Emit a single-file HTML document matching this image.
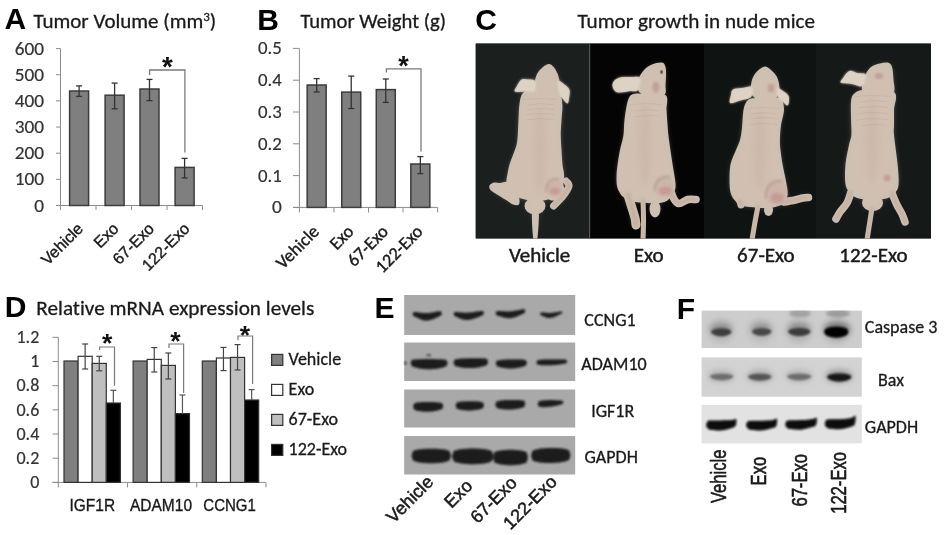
<!DOCTYPE html>
<html><head><meta charset="utf-8"><style>
html,body{margin:0;padding:0;background:#fff;}
svg{display:block;} text{font-variant-ligatures:none;font-feature-settings:'liga' 0,'kern' 1;}
</style></head><body>
<svg width="944" height="535" viewBox="0 0 944 535">
<defs>
<filter id="b06" filterUnits="userSpaceOnUse" x="0" y="0" width="944" height="535"><feGaussianBlur stdDeviation="0.6"/></filter>
<filter id="b07" filterUnits="userSpaceOnUse" x="0" y="0" width="944" height="535"><feGaussianBlur stdDeviation="0.7"/></filter>
<filter id="b08" filterUnits="userSpaceOnUse" x="0" y="0" width="944" height="535"><feGaussianBlur stdDeviation="0.9"/></filter>
<filter id="b12" filterUnits="userSpaceOnUse" x="0" y="0" width="944" height="535"><feGaussianBlur stdDeviation="1.3"/></filter>
<filter id="b3" filterUnits="userSpaceOnUse" x="0" y="0" width="944" height="535"><feGaussianBlur stdDeviation="3"/></filter>
<filter id="b1" filterUnits="userSpaceOnUse" x="0" y="0" width="944" height="535"><feGaussianBlur stdDeviation="1"/></filter>
<filter id="b15" filterUnits="userSpaceOnUse" x="0" y="0" width="944" height="535"><feGaussianBlur stdDeviation="1.5"/></filter>
<filter id="b2" filterUnits="userSpaceOnUse" x="0" y="0" width="944" height="535"><feGaussianBlur stdDeviation="2"/></filter>
<filter id="b5" filterUnits="userSpaceOnUse" x="0" y="0" width="944" height="535"><feGaussianBlur stdDeviation="5"/></filter>
<filter id="inner" filterUnits="userSpaceOnUse" x="0" y="0" width="944" height="535"><feMorphology operator="erode" radius="3"/><feGaussianBlur stdDeviation="3"/></filter>
<clipPath id="fclip"><rect x="701.6" y="310.6" width="160.2" height="37.4"/><rect x="701.6" y="357.4" width="160.2" height="39.3"/></clipPath>
<clipPath id="photoclip"><rect x="475.6" y="43.6" width="455.4" height="194.8"/></clipPath>
</defs>
<rect width="944" height="535" fill="#fff"/>
<text x="4.6" y="29" font-family="'Liberation Sans', Arial, sans-serif" font-size="30" fill="#000" text-anchor="start" font-weight="bold"  textLength="21.67" lengthAdjust="spacingAndGlyphs">A</text>
<text x="33.5" y="28" font-family="Carlito, 'Liberation Sans', sans-serif" font-size="21" fill="#1a1a1a" stroke="#1a1a1a" stroke-width="0.3">Tumor Volume (mm<tspan font-size="13" dy="-7">3</tspan><tspan dy="7">)</tspan></text>
<line x1="56" y1="48.6" x2="60.5" y2="48.6" stroke="#8c8c8c" stroke-width="1" />
<text x="44.0" y="54.6" font-family="Carlito, 'Liberation Sans', sans-serif" font-size="18" fill="#333" text-anchor="end" font-weight="normal" textLength="29.31" lengthAdjust="spacingAndGlyphs" stroke="#333" stroke-width="0.2" >600</text>
<line x1="56" y1="74.75" x2="60.5" y2="74.75" stroke="#8c8c8c" stroke-width="1" />
<text x="44.0" y="80.75" font-family="Carlito, 'Liberation Sans', sans-serif" font-size="18" fill="#333" text-anchor="end" font-weight="normal" textLength="29.31" lengthAdjust="spacingAndGlyphs" stroke="#333" stroke-width="0.2" >500</text>
<line x1="56" y1="100.9" x2="60.5" y2="100.9" stroke="#8c8c8c" stroke-width="1" />
<text x="44.0" y="106.9" font-family="Carlito, 'Liberation Sans', sans-serif" font-size="18" fill="#333" text-anchor="end" font-weight="normal" textLength="29.31" lengthAdjust="spacingAndGlyphs" stroke="#333" stroke-width="0.2" >400</text>
<line x1="56" y1="127.05000000000001" x2="60.5" y2="127.05000000000001" stroke="#8c8c8c" stroke-width="1" />
<text x="44.0" y="133.05" font-family="Carlito, 'Liberation Sans', sans-serif" font-size="18" fill="#333" text-anchor="end" font-weight="normal" textLength="29.31" lengthAdjust="spacingAndGlyphs" stroke="#333" stroke-width="0.2" >300</text>
<line x1="56" y1="153.20000000000002" x2="60.5" y2="153.20000000000002" stroke="#8c8c8c" stroke-width="1" />
<text x="44.0" y="159.20000000000002" font-family="Carlito, 'Liberation Sans', sans-serif" font-size="18" fill="#333" text-anchor="end" font-weight="normal" textLength="29.31" lengthAdjust="spacingAndGlyphs" stroke="#333" stroke-width="0.2" >200</text>
<line x1="56" y1="179.35" x2="60.5" y2="179.35" stroke="#8c8c8c" stroke-width="1" />
<text x="44.0" y="185.35" font-family="Carlito, 'Liberation Sans', sans-serif" font-size="18" fill="#333" text-anchor="end" font-weight="normal" textLength="29.31" lengthAdjust="spacingAndGlyphs" stroke="#333" stroke-width="0.2" >100</text>
<line x1="56" y1="205.5" x2="60.5" y2="205.5" stroke="#8c8c8c" stroke-width="1" />
<text x="44.0" y="211.5" font-family="Carlito, 'Liberation Sans', sans-serif" font-size="18" fill="#333" text-anchor="end" font-weight="normal" textLength="9.77" lengthAdjust="spacingAndGlyphs" stroke="#333" stroke-width="0.2" >0</text>
<line x1="60.5" y1="48.6" x2="60.5" y2="205.5" stroke="#8c8c8c" stroke-width="1" />
<line x1="56" y1="205.5" x2="202.5" y2="205.5" stroke="#8c8c8c" stroke-width="1" />
<line x1="60.5" y1="205.5" x2="60.5" y2="210.0" stroke="#8c8c8c" stroke-width="1" />
<line x1="96.0" y1="205.5" x2="96.0" y2="210.0" stroke="#8c8c8c" stroke-width="1" />
<line x1="131.5" y1="205.5" x2="131.5" y2="210.0" stroke="#8c8c8c" stroke-width="1" />
<line x1="167.0" y1="205.5" x2="167.0" y2="210.0" stroke="#8c8c8c" stroke-width="1" />
<line x1="202.5" y1="205.5" x2="202.5" y2="210.0" stroke="#8c8c8c" stroke-width="1" />
<rect x="69.60" y="91.00" width="19.00" height="114.50" fill="#7f7f7f" stroke="#3c3c3c" stroke-width="1.5" />
<line x1="79.1" y1="85.9" x2="79.1" y2="96.4" stroke="#333" stroke-width="1.3" />
<line x1="76.1" y1="85.9" x2="82.1" y2="85.9" stroke="#333" stroke-width="1.3" />
<line x1="76.1" y1="96.4" x2="82.1" y2="96.4" stroke="#333" stroke-width="1.3" />
<rect x="105.10" y="95.20" width="19.00" height="110.30" fill="#7f7f7f" stroke="#3c3c3c" stroke-width="1.5" />
<line x1="114.6" y1="83.1" x2="114.6" y2="108.8" stroke="#333" stroke-width="1.3" />
<line x1="111.6" y1="83.1" x2="117.6" y2="83.1" stroke="#333" stroke-width="1.3" />
<line x1="111.6" y1="108.8" x2="117.6" y2="108.8" stroke="#333" stroke-width="1.3" />
<rect x="140.00" y="89.00" width="19.00" height="116.50" fill="#7f7f7f" stroke="#3c3c3c" stroke-width="1.5" />
<line x1="149.5" y1="79.4" x2="149.5" y2="100.6" stroke="#333" stroke-width="1.3" />
<line x1="146.5" y1="79.4" x2="152.5" y2="79.4" stroke="#333" stroke-width="1.3" />
<line x1="146.5" y1="100.6" x2="152.5" y2="100.6" stroke="#333" stroke-width="1.3" />
<rect x="175.10" y="167.40" width="19.00" height="38.10" fill="#7f7f7f" stroke="#3c3c3c" stroke-width="1.5" />
<line x1="184.6" y1="158.4" x2="184.6" y2="177.9" stroke="#333" stroke-width="1.3" />
<line x1="181.6" y1="158.4" x2="187.6" y2="158.4" stroke="#333" stroke-width="1.3" />
<line x1="181.6" y1="177.9" x2="187.6" y2="177.9" stroke="#333" stroke-width="1.3" />
<polyline points="149.6,75 149.6,70 184.9,70 184.9,152.4" fill="none" stroke="#7a7a7a" stroke-width="1.3"/>
<text x="167.4" y="76.0" font-family="'Liberation Sans', Arial, sans-serif" font-size="27.7" font-weight="bold" fill="#111" text-anchor="middle" textLength="10.78" lengthAdjust="spacingAndGlyphs">*</text>
<text transform="translate(84.15,229.6) rotate(-45) scale(1,1)" font-family="'Liberation Sans', Arial, sans-serif" font-size="16" fill="#1a1a1a" text-anchor="end" stroke="#1a1a1a" stroke-width="0.4" textLength="51.59" lengthAdjust="spacingAndGlyphs">Vehicle</text>
<text transform="translate(119.65,229.6) rotate(-45) scale(1,1)" font-family="'Liberation Sans', Arial, sans-serif" font-size="16" fill="#1a1a1a" text-anchor="end" stroke="#1a1a1a" stroke-width="0.4" textLength="27.58" lengthAdjust="spacingAndGlyphs">Exo</text>
<text transform="translate(155.15,229.6) rotate(-45) scale(1,1)" font-family="'Liberation Sans', Arial, sans-serif" font-size="16" fill="#1a1a1a" text-anchor="end" stroke="#1a1a1a" stroke-width="0.4" textLength="50.70" lengthAdjust="spacingAndGlyphs">67-Exo</text>
<text transform="translate(190.65,229.6) rotate(-45) scale(1,1)" font-family="'Liberation Sans', Arial, sans-serif" font-size="16" fill="#1a1a1a" text-anchor="end" stroke="#1a1a1a" stroke-width="0.4" textLength="59.59" lengthAdjust="spacingAndGlyphs">122-Exo</text>
<text x="257.3" y="30" font-family="'Liberation Sans', Arial, sans-serif" font-size="30" fill="#000" text-anchor="start" font-weight="bold"  textLength="21.67" lengthAdjust="spacingAndGlyphs">B</text>
<text x="300.5" y="28" font-family="Carlito, 'Liberation Sans', sans-serif" font-size="21" fill="#1a1a1a" text-anchor="start" font-weight="normal" textLength="145.5" lengthAdjust="spacingAndGlyphs" stroke="#1a1a1a" stroke-width="0.3" >Tumor Weight (g)</text>
<line x1="293" y1="48.4" x2="299.4" y2="48.4" stroke="#8c8c8c" stroke-width="1" />
<text x="281.8" y="54.4" font-family="Carlito, 'Liberation Sans', sans-serif" font-size="18" fill="#333" text-anchor="end" font-weight="normal" textLength="23.82" lengthAdjust="spacingAndGlyphs" stroke="#333" stroke-width="0.2" >0.5</text>
<line x1="293" y1="80.2" x2="299.4" y2="80.2" stroke="#8c8c8c" stroke-width="1" />
<text x="281.8" y="86.2" font-family="Carlito, 'Liberation Sans', sans-serif" font-size="18" fill="#333" text-anchor="end" font-weight="normal" textLength="23.82" lengthAdjust="spacingAndGlyphs" stroke="#333" stroke-width="0.2" >0.4</text>
<line x1="293" y1="112.0" x2="299.4" y2="112.0" stroke="#8c8c8c" stroke-width="1" />
<text x="281.8" y="118.0" font-family="Carlito, 'Liberation Sans', sans-serif" font-size="18" fill="#333" text-anchor="end" font-weight="normal" textLength="23.82" lengthAdjust="spacingAndGlyphs" stroke="#333" stroke-width="0.2" >0.3</text>
<line x1="293" y1="143.8" x2="299.4" y2="143.8" stroke="#8c8c8c" stroke-width="1" />
<text x="281.8" y="149.8" font-family="Carlito, 'Liberation Sans', sans-serif" font-size="18" fill="#333" text-anchor="end" font-weight="normal" textLength="23.82" lengthAdjust="spacingAndGlyphs" stroke="#333" stroke-width="0.2" >0.2</text>
<line x1="293" y1="175.6" x2="299.4" y2="175.6" stroke="#8c8c8c" stroke-width="1" />
<text x="281.8" y="181.6" font-family="Carlito, 'Liberation Sans', sans-serif" font-size="18" fill="#333" text-anchor="end" font-weight="normal" textLength="23.82" lengthAdjust="spacingAndGlyphs" stroke="#333" stroke-width="0.2" >0.1</text>
<line x1="293" y1="207.4" x2="299.4" y2="207.4" stroke="#8c8c8c" stroke-width="1" />
<text x="281.8" y="213.4" font-family="Carlito, 'Liberation Sans', sans-serif" font-size="18" fill="#333" text-anchor="end" font-weight="normal" textLength="9.77" lengthAdjust="spacingAndGlyphs" stroke="#333" stroke-width="0.2" >0</text>
<line x1="299.4" y1="48.4" x2="299.4" y2="207.4" stroke="#8c8c8c" stroke-width="1" />
<line x1="293" y1="207.4" x2="437.6" y2="207.4" stroke="#8c8c8c" stroke-width="1" />
<line x1="299.4" y1="207.4" x2="299.4" y2="212.4" stroke="#8c8c8c" stroke-width="1" />
<line x1="333.95" y1="207.4" x2="333.95" y2="212.4" stroke="#8c8c8c" stroke-width="1" />
<line x1="368.5" y1="207.4" x2="368.5" y2="212.4" stroke="#8c8c8c" stroke-width="1" />
<line x1="403.05" y1="207.4" x2="403.05" y2="212.4" stroke="#8c8c8c" stroke-width="1" />
<line x1="437.6" y1="207.4" x2="437.6" y2="212.4" stroke="#8c8c8c" stroke-width="1" />
<rect x="307.17" y="85.00" width="19.00" height="122.40" fill="#7f7f7f" stroke="#3c3c3c" stroke-width="1.5" />
<line x1="316.67499999999995" y1="78.6" x2="316.67499999999995" y2="92" stroke="#333" stroke-width="1.3" />
<line x1="313.67499999999995" y1="78.6" x2="319.67499999999995" y2="78.6" stroke="#333" stroke-width="1.3" />
<line x1="313.67499999999995" y1="92" x2="319.67499999999995" y2="92" stroke="#333" stroke-width="1.3" />
<rect x="341.73" y="92.10" width="19.00" height="115.30" fill="#7f7f7f" stroke="#3c3c3c" stroke-width="1.5" />
<line x1="351.225" y1="76.1" x2="351.225" y2="108.5" stroke="#333" stroke-width="1.3" />
<line x1="348.225" y1="76.1" x2="354.225" y2="76.1" stroke="#333" stroke-width="1.3" />
<line x1="348.225" y1="108.5" x2="354.225" y2="108.5" stroke="#333" stroke-width="1.3" />
<rect x="376.27" y="89.60" width="19.00" height="117.80" fill="#7f7f7f" stroke="#3c3c3c" stroke-width="1.5" />
<line x1="385.775" y1="79" x2="385.775" y2="102.4" stroke="#333" stroke-width="1.3" />
<line x1="382.775" y1="79" x2="388.775" y2="79" stroke="#333" stroke-width="1.3" />
<line x1="382.775" y1="102.4" x2="388.775" y2="102.4" stroke="#333" stroke-width="1.3" />
<rect x="410.83" y="164.00" width="19.00" height="43.40" fill="#7f7f7f" stroke="#3c3c3c" stroke-width="1.5" />
<line x1="420.32500000000005" y1="156.6" x2="420.32500000000005" y2="173.6" stroke="#333" stroke-width="1.3" />
<line x1="417.32500000000005" y1="156.6" x2="423.32500000000005" y2="156.6" stroke="#333" stroke-width="1.3" />
<line x1="417.32500000000005" y1="173.6" x2="423.32500000000005" y2="173.6" stroke="#333" stroke-width="1.3" />
<polyline points="386.4,72.4 386.4,68.8 421,68.8 421,151.6" fill="none" stroke="#7a7a7a" stroke-width="1.3"/>
<text x="403.4" y="75.1" font-family="'Liberation Sans', Arial, sans-serif" font-size="26.9" font-weight="bold" fill="#111" text-anchor="middle" textLength="10.47" lengthAdjust="spacingAndGlyphs">*</text>
<text transform="translate(320.17499999999995,232.6) rotate(-45) scale(1,1)" font-family="Carlito, 'Liberation Sans', sans-serif" font-size="18" fill="#1a1a1a" text-anchor="end" stroke="#1a1a1a" stroke-width="0.4" textLength="52.56" lengthAdjust="spacingAndGlyphs">Vehicle</text>
<text transform="translate(354.725,232.6) rotate(-45) scale(1,1)" font-family="Carlito, 'Liberation Sans', sans-serif" font-size="18" fill="#1a1a1a" text-anchor="end" stroke="#1a1a1a" stroke-width="0.4" textLength="25.59" lengthAdjust="spacingAndGlyphs">Exo</text>
<text transform="translate(389.275,232.6) rotate(-45) scale(1,1)" font-family="Carlito, 'Liberation Sans', sans-serif" font-size="18" fill="#1a1a1a" text-anchor="end" stroke="#1a1a1a" stroke-width="0.4" textLength="49.36" lengthAdjust="spacingAndGlyphs">67-Exo</text>
<text transform="translate(423.82500000000005,232.6) rotate(-45) scale(1,1)" font-family="Carlito, 'Liberation Sans', sans-serif" font-size="18" fill="#1a1a1a" text-anchor="end" stroke="#1a1a1a" stroke-width="0.4" textLength="58.48" lengthAdjust="spacingAndGlyphs">122-Exo</text>
<text x="475.3" y="30" font-family="'Liberation Sans', Arial, sans-serif" font-size="30" fill="#000" text-anchor="start" font-weight="bold"  textLength="21.67" lengthAdjust="spacingAndGlyphs">C</text>
<text x="577.5" y="27.5" font-family="Carlito, 'Liberation Sans', sans-serif" font-size="21" fill="#1a1a1a" text-anchor="start" font-weight="normal" textLength="237.5" lengthAdjust="spacingAndGlyphs" stroke="#1a1a1a" stroke-width="0.3" >Tumor growth in nude mice</text>
<rect x="475.60" y="43.60" width="455.40" height="194.80" fill="#0c0f0e" />
<rect x="476.00" y="43.60" width="114.00" height="194.80" fill="#1b201f" />
<rect x="590.00" y="43.60" width="114.00" height="194.80" fill="#040404" />
<rect x="704.00" y="43.60" width="112.00" height="194.80" fill="#0f1311" />
<rect x="816.00" y="43.60" width="115.00" height="194.80" fill="#151a19" />
<line x1="589.6" y1="43.6" x2="589.6" y2="238.4" stroke="#555" stroke-width="1.2" />
<g clip-path="url(#photoclip)">
<g filter="url(#b06)" fill="#cbc0b1" stroke="#cbc0b1" stroke-linecap="round" stroke-linejoin="round">
<path d="M557.0,84.0 C559.5,86.2 560.1,92.3 561.0,96.0 C561.9,99.7 562.3,102.0 562.4,106.0 C562.5,110.0 561.8,115.2 561.5,120.0 C561.2,124.8 560.7,130.0 560.7,135.0 C560.7,140.0 561.2,145.1 561.5,150.0 C561.8,154.9 562.1,160.5 562.5,164.5 C562.9,168.5 563.9,170.9 564.0,174.0 C564.1,177.1 564.3,179.5 563.0,183.0 C561.7,186.5 558.8,192.2 556.0,195.0 C553.2,197.8 549.5,199.0 546.0,200.0 C542.5,201.0 538.8,201.2 535.0,201.0 C531.2,200.8 526.5,200.0 523.0,199.0 C519.5,198.0 516.5,196.7 514.0,195.0 C511.5,193.3 509.2,191.3 508.0,189.0 C506.8,186.7 506.6,183.5 506.5,181.0 C506.4,178.5 507.0,176.8 507.5,174.0 C508.0,171.2 508.6,167.7 509.5,164.5 C510.4,161.3 511.8,158.2 513.0,155.0 C514.2,151.8 515.7,148.3 516.5,145.0 C517.3,141.7 517.5,139.2 517.8,135.0 C518.1,130.8 518.2,125.2 518.5,120.0 C518.8,114.8 518.8,108.5 519.5,104.0 C520.2,99.5 520.4,96.0 523.0,93.0 C525.6,90.0 531.2,87.7 535.0,86.0 C538.8,84.3 542.3,83.3 546.0,83.0 C549.7,82.7 554.5,81.8 557.0,84.0Z" stroke="none"/>
<path d="M549.0,64.0 C550.8,64.1 552.5,65.7 554.0,67.5 C555.5,69.3 557.1,72.4 558.0,75.0 C558.9,77.6 559.8,80.2 559.5,83.0 C559.2,85.8 557.9,90.0 556.0,92.0 C554.1,94.0 551.0,94.8 548.0,95.0 C545.0,95.2 540.2,94.7 538.0,93.0 C535.8,91.3 534.7,88.2 534.5,85.0 C534.3,81.8 535.6,77.0 537.0,74.0 C538.4,71.0 541.0,68.7 543.0,67.0 C545.0,65.3 547.2,63.9 549.0,64.0Z" stroke="none"/>
<path d="M535.0,81.0 C533.8,79.1 530.2,79.8 528.0,79.5 C525.8,79.2 523.3,78.4 521.5,79.5 C519.7,80.6 518.1,84.0 517.0,86.0 C515.9,88.0 513.5,90.6 515.0,91.5 C516.5,92.4 522.7,91.6 526.0,91.5 C529.3,91.4 533.5,92.8 535.0,91.0 C536.5,89.2 536.2,82.9 535.0,81.0Z" stroke="none"/>
<path d="M558.0,81.0 C559.0,79.7 563.1,83.5 565.0,85.0 C566.9,86.5 568.8,87.8 569.5,90.0 C570.2,92.2 569.3,95.8 569.0,98.0 C568.7,100.2 568.5,103.3 567.5,103.5 C566.5,103.7 564.4,100.8 563.0,99.0 C561.6,97.2 559.8,96.0 559.0,93.0 C558.2,90.0 557.0,82.3 558.0,81.0Z" stroke="none"/>
<path d="M508.0,182.0 C506.0,181.0 502.3,182.9 500.0,183.0 C497.7,183.1 495.8,182.1 494.0,182.5 C492.2,182.9 490.1,184.2 489.5,185.5 C488.9,186.8 489.2,188.5 490.5,190.0 C491.8,191.5 494.4,192.8 497.0,194.5 C499.6,196.2 503.3,198.3 506.0,200.0 C508.7,201.7 510.8,203.8 513.0,204.5 C515.2,205.2 518.1,205.9 519.0,204.5 C519.9,203.1 519.7,198.6 518.5,196.0 C517.3,193.4 513.8,191.3 512.0,189.0 C510.2,186.7 510.0,183.0 508.0,182.0Z" stroke="none"/>
<path d="M532.2,211.0 C533.1,206.2 537.8,206.2 538.6,211.0 C539.4,215.8 538.1,235.2 537.2,240.0 C536.3,244.8 534.2,244.8 533.4,240.0 C532.6,235.2 531.3,215.8 532.2,211.0Z" stroke="none"/>
<path d="M566.0,181.0 C566.5,181.8 569.5,183.5 569.0,186.0 C568.5,188.5 565.6,192.7 563.0,196.0 C560.4,199.3 555.1,204.3 553.5,206.0" fill="none" stroke-width="7"/>
<ellipse cx="535" cy="206" rx="10.5" ry="8.5" stroke="none"/>
<ellipse cx="553.5" cy="189" rx="10.5" ry="11.5" stroke="none"/>
</g>
<g filter="url(#inner)" fill="#d1c0b2" stroke="#d1c0b2" stroke-linecap="round" stroke-linejoin="round">
<path d="M557.0,84.0 C559.5,86.2 560.1,92.3 561.0,96.0 C561.9,99.7 562.3,102.0 562.4,106.0 C562.5,110.0 561.8,115.2 561.5,120.0 C561.2,124.8 560.7,130.0 560.7,135.0 C560.7,140.0 561.2,145.1 561.5,150.0 C561.8,154.9 562.1,160.5 562.5,164.5 C562.9,168.5 563.9,170.9 564.0,174.0 C564.1,177.1 564.3,179.5 563.0,183.0 C561.7,186.5 558.8,192.2 556.0,195.0 C553.2,197.8 549.5,199.0 546.0,200.0 C542.5,201.0 538.8,201.2 535.0,201.0 C531.2,200.8 526.5,200.0 523.0,199.0 C519.5,198.0 516.5,196.7 514.0,195.0 C511.5,193.3 509.2,191.3 508.0,189.0 C506.8,186.7 506.6,183.5 506.5,181.0 C506.4,178.5 507.0,176.8 507.5,174.0 C508.0,171.2 508.6,167.7 509.5,164.5 C510.4,161.3 511.8,158.2 513.0,155.0 C514.2,151.8 515.7,148.3 516.5,145.0 C517.3,141.7 517.5,139.2 517.8,135.0 C518.1,130.8 518.2,125.2 518.5,120.0 C518.8,114.8 518.8,108.5 519.5,104.0 C520.2,99.5 520.4,96.0 523.0,93.0 C525.6,90.0 531.2,87.7 535.0,86.0 C538.8,84.3 542.3,83.3 546.0,83.0 C549.7,82.7 554.5,81.8 557.0,84.0Z" stroke="none"/>
<path d="M549.0,64.0 C550.8,64.1 552.5,65.7 554.0,67.5 C555.5,69.3 557.1,72.4 558.0,75.0 C558.9,77.6 559.8,80.2 559.5,83.0 C559.2,85.8 557.9,90.0 556.0,92.0 C554.1,94.0 551.0,94.8 548.0,95.0 C545.0,95.2 540.2,94.7 538.0,93.0 C535.8,91.3 534.7,88.2 534.5,85.0 C534.3,81.8 535.6,77.0 537.0,74.0 C538.4,71.0 541.0,68.7 543.0,67.0 C545.0,65.3 547.2,63.9 549.0,64.0Z" stroke="none"/>
<path d="M535.0,81.0 C533.8,79.1 530.2,79.8 528.0,79.5 C525.8,79.2 523.3,78.4 521.5,79.5 C519.7,80.6 518.1,84.0 517.0,86.0 C515.9,88.0 513.5,90.6 515.0,91.5 C516.5,92.4 522.7,91.6 526.0,91.5 C529.3,91.4 533.5,92.8 535.0,91.0 C536.5,89.2 536.2,82.9 535.0,81.0Z" stroke="none"/>
<path d="M558.0,81.0 C559.0,79.7 563.1,83.5 565.0,85.0 C566.9,86.5 568.8,87.8 569.5,90.0 C570.2,92.2 569.3,95.8 569.0,98.0 C568.7,100.2 568.5,103.3 567.5,103.5 C566.5,103.7 564.4,100.8 563.0,99.0 C561.6,97.2 559.8,96.0 559.0,93.0 C558.2,90.0 557.0,82.3 558.0,81.0Z" stroke="none"/>
<path d="M508.0,182.0 C506.0,181.0 502.3,182.9 500.0,183.0 C497.7,183.1 495.8,182.1 494.0,182.5 C492.2,182.9 490.1,184.2 489.5,185.5 C488.9,186.8 489.2,188.5 490.5,190.0 C491.8,191.5 494.4,192.8 497.0,194.5 C499.6,196.2 503.3,198.3 506.0,200.0 C508.7,201.7 510.8,203.8 513.0,204.5 C515.2,205.2 518.1,205.9 519.0,204.5 C519.9,203.1 519.7,198.6 518.5,196.0 C517.3,193.4 513.8,191.3 512.0,189.0 C510.2,186.7 510.0,183.0 508.0,182.0Z" stroke="none"/>
<path d="M532.2,211.0 C533.1,206.2 537.8,206.2 538.6,211.0 C539.4,215.8 538.1,235.2 537.2,240.0 C536.3,244.8 534.2,244.8 533.4,240.0 C532.6,235.2 531.3,215.8 532.2,211.0Z" stroke="none"/>
<path d="M566.0,181.0 C566.5,181.8 569.5,183.5 569.0,186.0 C568.5,188.5 565.6,192.7 563.0,196.0 C560.4,199.3 555.1,204.3 553.5,206.0" fill="none" stroke-width="7"/>
<ellipse cx="535" cy="206" rx="10.5" ry="8.5" stroke="none"/>
<ellipse cx="553.5" cy="189" rx="10.5" ry="11.5" stroke="none"/>
</g>
<ellipse cx="540" cy="150" rx="7" ry="45" fill="#c4a89c" opacity="0.28" filter="url(#b3)"/>
<path d="M523,100.0 Q536.5,97.4 556,99.6" fill="none" stroke="#a8968c" stroke-width="1" opacity="0.22" filter="url(#b07)"/>
<path d="M528,105.0 Q540.5,102.4 553,104.6" fill="none" stroke="#a8968c" stroke-width="1" opacity="0.22" filter="url(#b07)"/>
<path d="M527,110.0 Q543.5,107.4 554,109.6" fill="none" stroke="#a8968c" stroke-width="1" opacity="0.22" filter="url(#b07)"/>
<path d="M526,115.0 Q537.0,112.4 554,114.6" fill="none" stroke="#a8968c" stroke-width="1" opacity="0.22" filter="url(#b07)"/>
<path d="M525,120.0 Q540.0,117.4 555,119.6" fill="none" stroke="#a8968c" stroke-width="1" opacity="0.22" filter="url(#b07)"/>
<path d="M535.0,81.0 C533.8,79.1 530.2,79.8 528.0,79.5 C525.8,79.2 523.3,78.4 521.5,79.5 C519.7,80.6 518.1,84.0 517.0,86.0 C515.9,88.0 513.5,90.6 515.0,91.5 C516.5,92.4 522.7,91.6 526.0,91.5 C529.3,91.4 533.5,92.8 535.0,91.0 C536.5,89.2 536.2,82.9 535.0,81.0Z" fill="#e2dacb" opacity="0.75" filter="url(#b1)"/>
<path d="M558.0,81.0 C559.0,79.7 563.1,83.5 565.0,85.0 C566.9,86.5 568.8,87.8 569.5,90.0 C570.2,92.2 569.3,95.8 569.0,98.0 C568.7,100.2 568.5,103.3 567.5,103.5 C566.5,103.7 564.4,100.8 563.0,99.0 C561.6,97.2 559.8,96.0 559.0,93.0 C558.2,90.0 557.0,82.3 558.0,81.0Z" fill="#e2dacb" opacity="0.75" filter="url(#b1)"/>
<path d="M566.0,181.0 C566.5,181.8 569.5,183.5 569.0,186.0 C568.5,188.5 565.6,192.7 563.0,196.0 C560.4,199.3 555.1,204.3 553.5,206.0" fill="none" stroke="#c4a898" stroke-width="3.9" stroke-linecap="round" opacity="0.6" filter="url(#b1)"/>
<ellipse cx="554" cy="187" rx="8.5" ry="9.5" fill="#c8a89f" opacity="0.45" filter="url(#b15)"/>
<ellipse cx="555" cy="191.3" rx="5.3" ry="3.6" fill="#c4948f" opacity="0.8" filter="url(#b15)"/>
<path d="M545.9,191.8 Q546.4,178.4 559.1,178.9" fill="none" stroke="#a08e84" stroke-width="2" opacity="0.45" filter="url(#b1)"/>
<g filter="url(#b06)" fill="#cbc0b1" stroke="#cbc0b1" stroke-linecap="round" stroke-linejoin="round">
<path d="M662.0,62.5 C664.2,62.9 664.8,64.9 665.5,67.0 C666.2,69.1 666.0,72.0 666.0,75.0 C666.0,78.0 665.7,81.8 665.5,85.0 C665.3,88.2 666.8,92.0 665.0,94.0 C663.2,96.0 658.3,96.7 655.0,97.0 C651.7,97.3 647.8,97.2 645.0,96.0 C642.2,94.8 639.2,92.7 638.0,90.0 C636.8,87.3 637.0,83.3 638.0,80.0 C639.0,76.7 641.7,72.6 644.0,70.0 C646.3,67.4 649.0,65.8 652.0,64.5 C655.0,63.2 659.8,62.1 662.0,62.5Z" stroke="none"/>
<path d="M640.0,78.0 C638.7,75.8 633.3,77.1 630.0,77.0 C626.7,76.9 622.7,76.8 620.0,77.5 C617.3,78.2 615.2,79.6 614.0,81.0 C612.8,82.4 612.3,84.3 612.5,86.0 C612.7,87.7 613.8,89.9 615.0,91.0 C616.2,92.1 617.5,92.5 620.0,92.5 C622.5,92.5 627.0,91.4 630.0,91.0 C633.0,90.6 636.3,92.2 638.0,90.0 C639.7,87.8 641.3,80.2 640.0,78.0Z" stroke="none"/>
<path d="M665.5,95.0 C669.1,97.7 666.2,105.0 666.5,110.0 C666.8,115.0 667.1,120.0 667.5,125.0 C667.9,130.0 668.1,133.4 669.0,140.0 C669.9,146.6 671.5,157.2 672.6,164.5 C673.7,171.8 675.3,179.4 675.5,184.0 C675.7,188.6 675.2,189.3 674.0,192.0 C672.8,194.7 670.3,198.2 668.0,200.0 C665.7,201.8 663.3,202.5 660.0,203.0 C656.7,203.5 652.0,203.2 648.0,203.0 C644.0,202.8 639.8,202.8 636.0,202.0 C632.2,201.2 627.6,199.3 625.0,198.0 C622.4,196.7 621.8,196.0 620.5,194.0 C619.2,192.0 617.6,189.2 617.0,186.0 C616.4,182.8 616.5,178.6 616.6,175.0 C616.7,171.4 617.0,168.7 617.6,164.5 C618.2,160.3 619.0,154.9 620.0,150.0 C621.0,145.1 622.8,140.0 623.5,135.0 C624.2,130.0 623.8,125.7 624.5,120.0 C625.2,114.3 626.4,105.3 627.8,101.0 C629.2,96.7 630.1,95.2 633.0,94.0 C635.9,92.8 639.6,93.8 645.0,94.0 C650.4,94.2 661.9,92.3 665.5,95.0Z" stroke="none"/>
<path d="M670.0,189.0 C670.7,190.7 672.5,196.6 674.0,199.0 C675.5,201.4 676.7,203.4 679.0,203.5 C681.3,203.6 685.2,200.2 688.0,199.5 C690.8,198.8 694.7,199.5 696.0,199.5" fill="none" stroke-width="7.5"/>
<path d="M628.0,195.0 C628.7,197.2 630.8,204.2 632.0,208.0 C633.2,211.8 634.3,215.2 635.0,218.0 C635.7,220.8 635.8,223.8 636.0,225.0" fill="none" stroke-width="9"/>
<path d="M643.0,200.0 C643.1,203.3 643.5,213.3 643.5,220.0 C643.5,226.7 643.1,236.7 643.0,240.0" fill="none" stroke-width="5"/>
<ellipse cx="655" cy="209" rx="5.5" ry="8.5" stroke="none"/>
</g>
<g filter="url(#inner)" fill="#d1c0b2" stroke="#d1c0b2" stroke-linecap="round" stroke-linejoin="round">
<path d="M662.0,62.5 C664.2,62.9 664.8,64.9 665.5,67.0 C666.2,69.1 666.0,72.0 666.0,75.0 C666.0,78.0 665.7,81.8 665.5,85.0 C665.3,88.2 666.8,92.0 665.0,94.0 C663.2,96.0 658.3,96.7 655.0,97.0 C651.7,97.3 647.8,97.2 645.0,96.0 C642.2,94.8 639.2,92.7 638.0,90.0 C636.8,87.3 637.0,83.3 638.0,80.0 C639.0,76.7 641.7,72.6 644.0,70.0 C646.3,67.4 649.0,65.8 652.0,64.5 C655.0,63.2 659.8,62.1 662.0,62.5Z" stroke="none"/>
<path d="M640.0,78.0 C638.7,75.8 633.3,77.1 630.0,77.0 C626.7,76.9 622.7,76.8 620.0,77.5 C617.3,78.2 615.2,79.6 614.0,81.0 C612.8,82.4 612.3,84.3 612.5,86.0 C612.7,87.7 613.8,89.9 615.0,91.0 C616.2,92.1 617.5,92.5 620.0,92.5 C622.5,92.5 627.0,91.4 630.0,91.0 C633.0,90.6 636.3,92.2 638.0,90.0 C639.7,87.8 641.3,80.2 640.0,78.0Z" stroke="none"/>
<path d="M665.5,95.0 C669.1,97.7 666.2,105.0 666.5,110.0 C666.8,115.0 667.1,120.0 667.5,125.0 C667.9,130.0 668.1,133.4 669.0,140.0 C669.9,146.6 671.5,157.2 672.6,164.5 C673.7,171.8 675.3,179.4 675.5,184.0 C675.7,188.6 675.2,189.3 674.0,192.0 C672.8,194.7 670.3,198.2 668.0,200.0 C665.7,201.8 663.3,202.5 660.0,203.0 C656.7,203.5 652.0,203.2 648.0,203.0 C644.0,202.8 639.8,202.8 636.0,202.0 C632.2,201.2 627.6,199.3 625.0,198.0 C622.4,196.7 621.8,196.0 620.5,194.0 C619.2,192.0 617.6,189.2 617.0,186.0 C616.4,182.8 616.5,178.6 616.6,175.0 C616.7,171.4 617.0,168.7 617.6,164.5 C618.2,160.3 619.0,154.9 620.0,150.0 C621.0,145.1 622.8,140.0 623.5,135.0 C624.2,130.0 623.8,125.7 624.5,120.0 C625.2,114.3 626.4,105.3 627.8,101.0 C629.2,96.7 630.1,95.2 633.0,94.0 C635.9,92.8 639.6,93.8 645.0,94.0 C650.4,94.2 661.9,92.3 665.5,95.0Z" stroke="none"/>
<path d="M670.0,189.0 C670.7,190.7 672.5,196.6 674.0,199.0 C675.5,201.4 676.7,203.4 679.0,203.5 C681.3,203.6 685.2,200.2 688.0,199.5 C690.8,198.8 694.7,199.5 696.0,199.5" fill="none" stroke-width="7.5"/>
<path d="M628.0,195.0 C628.7,197.2 630.8,204.2 632.0,208.0 C633.2,211.8 634.3,215.2 635.0,218.0 C635.7,220.8 635.8,223.8 636.0,225.0" fill="none" stroke-width="9"/>
<path d="M643.0,200.0 C643.1,203.3 643.5,213.3 643.5,220.0 C643.5,226.7 643.1,236.7 643.0,240.0" fill="none" stroke-width="5"/>
<ellipse cx="655" cy="209" rx="5.5" ry="8.5" stroke="none"/>
</g>
<ellipse cx="645" cy="145" rx="7" ry="42" fill="#c4a89c" opacity="0.28" filter="url(#b3)"/>
<path d="M630,105.0 Q643.0,102.4 662,104.6" fill="none" stroke="#a8968c" stroke-width="1" opacity="0.22" filter="url(#b07)"/>
<path d="M635,111.0 Q647.0,108.4 659,110.6" fill="none" stroke="#a8968c" stroke-width="1" opacity="0.22" filter="url(#b07)"/>
<path d="M634,117.0 Q650.0,114.4 660,116.6" fill="none" stroke="#a8968c" stroke-width="1" opacity="0.22" filter="url(#b07)"/>
<path d="M640.0,78.0 C638.7,75.8 633.3,77.1 630.0,77.0 C626.7,76.9 622.7,76.8 620.0,77.5 C617.3,78.2 615.2,79.6 614.0,81.0 C612.8,82.4 612.3,84.3 612.5,86.0 C612.7,87.7 613.8,89.9 615.0,91.0 C616.2,92.1 617.5,92.5 620.0,92.5 C622.5,92.5 627.0,91.4 630.0,91.0 C633.0,90.6 636.3,92.2 638.0,90.0 C639.7,87.8 641.3,80.2 640.0,78.0Z" fill="#e2dacb" opacity="0.75" filter="url(#b1)"/>
<path d="M670.0,189.0 C670.7,190.7 672.5,196.6 674.0,199.0 C675.5,201.4 676.7,203.4 679.0,203.5 C681.3,203.6 685.2,200.2 688.0,199.5 C690.8,198.8 694.7,199.5 696.0,199.5" fill="none" stroke="#c4a898" stroke-width="4.1" stroke-linecap="round" opacity="0.6" filter="url(#b1)"/>
<path d="M628.0,195.0 C628.7,197.2 630.8,204.2 632.0,208.0 C633.2,211.8 634.3,215.2 635.0,218.0 C635.7,220.8 635.8,223.8 636.0,225.0" fill="none" stroke="#c4a898" stroke-width="5.0" stroke-linecap="round" opacity="0.6" filter="url(#b1)"/>
<path d="M643.0,200.0 C643.1,203.3 643.5,213.3 643.5,220.0 C643.5,226.7 643.1,236.7 643.0,240.0" fill="none" stroke="#c4a898" stroke-width="2.8" stroke-linecap="round" opacity="0.6" filter="url(#b1)"/>
<ellipse cx="664" cy="186" rx="10" ry="11" fill="#c8a89f" opacity="0.45" filter="url(#b15)"/>
<ellipse cx="665" cy="190.9" rx="6.2" ry="4.2" fill="#c4948f" opacity="0.8" filter="url(#b15)"/>
<path d="M654.5,191.5 Q655.0,176.1 670.0,176.7" fill="none" stroke="#a08e84" stroke-width="2" opacity="0.45" filter="url(#b1)"/>
<ellipse cx="656" cy="87" rx="3.5" ry="5.5" fill="#bf9990" opacity="0.8" filter="url(#b1)"/>
<g filter="url(#b06)" fill="#cbc0b1" stroke="#cbc0b1" stroke-linecap="round" stroke-linejoin="round">
<path d="M765.6,66.5 C767.4,66.7 769.1,68.2 771.0,70.0 C772.9,71.8 775.6,74.0 777.0,77.0 C778.4,80.0 779.5,84.7 779.5,88.0 C779.5,91.3 778.9,95.0 777.0,97.0 C775.1,99.0 771.3,99.7 768.0,100.0 C764.7,100.3 759.8,100.2 757.0,99.0 C754.2,97.8 751.9,95.8 751.0,93.0 C750.1,90.2 750.9,85.1 751.5,82.0 C752.1,78.9 753.1,76.7 754.5,74.5 C755.9,72.3 758.1,70.3 760.0,69.0 C761.9,67.7 763.8,66.3 765.6,66.5Z" stroke="none"/>
<path d="M752.0,87.0 C750.5,85.5 745.2,87.6 742.0,88.0 C738.8,88.4 734.8,88.3 733.0,89.5 C731.2,90.7 731.5,92.8 731.0,95.0 C730.5,97.2 728.7,102.1 730.2,103.0 C731.7,103.9 736.5,101.5 740.0,100.5 C743.5,99.5 749.0,99.2 751.0,97.0 C753.0,94.8 753.5,88.5 752.0,87.0Z" stroke="none"/>
<path d="M777.0,88.0 C777.8,87.0 781.1,89.8 783.0,91.0 C784.9,92.2 787.3,93.8 788.3,95.4 C789.3,97.0 789.1,98.8 789.0,100.5 C788.9,102.2 788.6,105.4 787.4,105.5 C786.2,105.6 783.6,102.4 782.0,101.0 C780.4,99.6 778.8,99.2 778.0,97.0 C777.2,94.8 776.2,89.0 777.0,88.0Z" stroke="none"/>
<path d="M779.0,98.0 C783.5,99.8 783.7,104.5 784.0,109.0 C784.3,113.5 781.7,119.8 781.0,125.0 C780.3,130.2 780.0,135.8 779.9,140.0 C779.8,144.2 780.0,145.9 780.5,150.0 C781.0,154.1 781.6,158.8 782.6,164.5 C783.6,170.2 785.7,178.9 786.5,184.0 C787.3,189.1 787.9,191.8 787.5,195.0 C787.1,198.2 786.1,201.0 784.0,203.0 C781.9,205.0 778.3,206.2 775.0,207.0 C771.7,207.8 768.2,208.0 764.0,208.0 C759.8,208.0 754.0,207.5 750.0,207.0 C746.0,206.5 742.6,206.2 740.0,205.0 C737.4,203.8 736.0,201.8 734.5,200.0 C733.0,198.2 731.8,196.7 731.0,194.0 C730.2,191.3 729.7,188.9 729.6,184.0 C729.5,179.1 729.4,170.2 730.5,164.5 C731.6,158.8 734.4,154.1 736.0,150.0 C737.6,145.9 739.0,143.7 740.0,140.0 C741.0,136.3 741.4,133.2 742.0,128.0 C742.6,122.8 742.7,113.7 743.7,109.0 C744.7,104.3 745.8,101.8 748.0,100.0 C750.2,98.2 751.8,98.3 757.0,98.0 C762.2,97.7 774.5,96.2 779.0,98.0Z" stroke="none"/>
<path d="M784.0,202.0 C785.8,201.7 791.8,200.7 795.0,200.0 C798.2,199.3 800.8,198.4 803.0,198.0 C805.2,197.6 807.6,197.6 808.5,197.5" fill="none" stroke-width="7.5"/>
<path d="M740.0,201.0 C740.2,201.7 740.8,204.3 741.0,205.0" fill="none" stroke-width="7"/>
<path d="M758.0,206.0 C757.5,208.7 756.0,216.3 755.0,222.0 C754.0,227.7 752.5,237.0 752.0,240.0" fill="none" stroke-width="5"/>
<ellipse cx="768.5" cy="210" rx="4.5" ry="6" stroke="none"/>
</g>
<g filter="url(#inner)" fill="#d1c0b2" stroke="#d1c0b2" stroke-linecap="round" stroke-linejoin="round">
<path d="M765.6,66.5 C767.4,66.7 769.1,68.2 771.0,70.0 C772.9,71.8 775.6,74.0 777.0,77.0 C778.4,80.0 779.5,84.7 779.5,88.0 C779.5,91.3 778.9,95.0 777.0,97.0 C775.1,99.0 771.3,99.7 768.0,100.0 C764.7,100.3 759.8,100.2 757.0,99.0 C754.2,97.8 751.9,95.8 751.0,93.0 C750.1,90.2 750.9,85.1 751.5,82.0 C752.1,78.9 753.1,76.7 754.5,74.5 C755.9,72.3 758.1,70.3 760.0,69.0 C761.9,67.7 763.8,66.3 765.6,66.5Z" stroke="none"/>
<path d="M752.0,87.0 C750.5,85.5 745.2,87.6 742.0,88.0 C738.8,88.4 734.8,88.3 733.0,89.5 C731.2,90.7 731.5,92.8 731.0,95.0 C730.5,97.2 728.7,102.1 730.2,103.0 C731.7,103.9 736.5,101.5 740.0,100.5 C743.5,99.5 749.0,99.2 751.0,97.0 C753.0,94.8 753.5,88.5 752.0,87.0Z" stroke="none"/>
<path d="M777.0,88.0 C777.8,87.0 781.1,89.8 783.0,91.0 C784.9,92.2 787.3,93.8 788.3,95.4 C789.3,97.0 789.1,98.8 789.0,100.5 C788.9,102.2 788.6,105.4 787.4,105.5 C786.2,105.6 783.6,102.4 782.0,101.0 C780.4,99.6 778.8,99.2 778.0,97.0 C777.2,94.8 776.2,89.0 777.0,88.0Z" stroke="none"/>
<path d="M779.0,98.0 C783.5,99.8 783.7,104.5 784.0,109.0 C784.3,113.5 781.7,119.8 781.0,125.0 C780.3,130.2 780.0,135.8 779.9,140.0 C779.8,144.2 780.0,145.9 780.5,150.0 C781.0,154.1 781.6,158.8 782.6,164.5 C783.6,170.2 785.7,178.9 786.5,184.0 C787.3,189.1 787.9,191.8 787.5,195.0 C787.1,198.2 786.1,201.0 784.0,203.0 C781.9,205.0 778.3,206.2 775.0,207.0 C771.7,207.8 768.2,208.0 764.0,208.0 C759.8,208.0 754.0,207.5 750.0,207.0 C746.0,206.5 742.6,206.2 740.0,205.0 C737.4,203.8 736.0,201.8 734.5,200.0 C733.0,198.2 731.8,196.7 731.0,194.0 C730.2,191.3 729.7,188.9 729.6,184.0 C729.5,179.1 729.4,170.2 730.5,164.5 C731.6,158.8 734.4,154.1 736.0,150.0 C737.6,145.9 739.0,143.7 740.0,140.0 C741.0,136.3 741.4,133.2 742.0,128.0 C742.6,122.8 742.7,113.7 743.7,109.0 C744.7,104.3 745.8,101.8 748.0,100.0 C750.2,98.2 751.8,98.3 757.0,98.0 C762.2,97.7 774.5,96.2 779.0,98.0Z" stroke="none"/>
<path d="M784.0,202.0 C785.8,201.7 791.8,200.7 795.0,200.0 C798.2,199.3 800.8,198.4 803.0,198.0 C805.2,197.6 807.6,197.6 808.5,197.5" fill="none" stroke-width="7.5"/>
<path d="M740.0,201.0 C740.2,201.7 740.8,204.3 741.0,205.0" fill="none" stroke-width="7"/>
<path d="M758.0,206.0 C757.5,208.7 756.0,216.3 755.0,222.0 C754.0,227.7 752.5,237.0 752.0,240.0" fill="none" stroke-width="5"/>
<ellipse cx="768.5" cy="210" rx="4.5" ry="6" stroke="none"/>
</g>
<ellipse cx="760" cy="150" rx="7" ry="42" fill="#c4a89c" opacity="0.28" filter="url(#b3)"/>
<path d="M746,109.0 Q759.5,106.4 779,108.6" fill="none" stroke="#a8968c" stroke-width="1" opacity="0.22" filter="url(#b07)"/>
<path d="M751,114.0 Q763.5,111.4 776,113.6" fill="none" stroke="#a8968c" stroke-width="1" opacity="0.22" filter="url(#b07)"/>
<path d="M750,119.0 Q766.5,116.4 777,118.6" fill="none" stroke="#a8968c" stroke-width="1" opacity="0.22" filter="url(#b07)"/>
<path d="M749,125.0 Q760.0,122.4 777,124.6" fill="none" stroke="#a8968c" stroke-width="1" opacity="0.22" filter="url(#b07)"/>
<path d="M752.0,87.0 C750.5,85.5 745.2,87.6 742.0,88.0 C738.8,88.4 734.8,88.3 733.0,89.5 C731.2,90.7 731.5,92.8 731.0,95.0 C730.5,97.2 728.7,102.1 730.2,103.0 C731.7,103.9 736.5,101.5 740.0,100.5 C743.5,99.5 749.0,99.2 751.0,97.0 C753.0,94.8 753.5,88.5 752.0,87.0Z" fill="#e2dacb" opacity="0.75" filter="url(#b1)"/>
<path d="M777.0,88.0 C777.8,87.0 781.1,89.8 783.0,91.0 C784.9,92.2 787.3,93.8 788.3,95.4 C789.3,97.0 789.1,98.8 789.0,100.5 C788.9,102.2 788.6,105.4 787.4,105.5 C786.2,105.6 783.6,102.4 782.0,101.0 C780.4,99.6 778.8,99.2 778.0,97.0 C777.2,94.8 776.2,89.0 777.0,88.0Z" fill="#e2dacb" opacity="0.75" filter="url(#b1)"/>
<path d="M784.0,202.0 C785.8,201.7 791.8,200.7 795.0,200.0 C798.2,199.3 800.8,198.4 803.0,198.0 C805.2,197.6 807.6,197.6 808.5,197.5" fill="none" stroke="#c4a898" stroke-width="4.1" stroke-linecap="round" opacity="0.6" filter="url(#b1)"/>
<path d="M740.0,201.0 C740.2,201.7 740.8,204.3 741.0,205.0" fill="none" stroke="#c4a898" stroke-width="3.9" stroke-linecap="round" opacity="0.6" filter="url(#b1)"/>
<path d="M758.0,206.0 C757.5,208.7 756.0,216.3 755.0,222.0 C754.0,227.7 752.5,237.0 752.0,240.0" fill="none" stroke="#c4a898" stroke-width="2.8" stroke-linecap="round" opacity="0.6" filter="url(#b1)"/>
<ellipse cx="776" cy="192" rx="11" ry="13" fill="#c8a89f" opacity="0.45" filter="url(#b15)"/>
<ellipse cx="777" cy="197.8" rx="6.8" ry="4.9" fill="#c4948f" opacity="0.8" filter="url(#b15)"/>
<path d="M765.5,198.5 Q766.1,180.3 782.6,180.9" fill="none" stroke="#a08e84" stroke-width="2" opacity="0.45" filter="url(#b1)"/>
<ellipse cx="771" cy="88" rx="3.5" ry="4.5" fill="#bf9990" opacity="0.8" filter="url(#b1)"/>
<g filter="url(#b06)" fill="#cbc0b1" stroke="#cbc0b1" stroke-linecap="round" stroke-linejoin="round">
<path d="M889.0,63.0 C891.0,63.8 891.5,65.2 892.3,68.0 C893.0,70.8 893.2,76.0 893.5,80.0 C893.8,84.0 895.4,89.2 894.0,92.0 C892.6,94.8 889.0,96.2 885.0,97.0 C881.0,97.8 873.8,98.2 870.0,97.0 C866.2,95.8 862.8,93.5 862.0,90.0 C861.2,86.5 863.5,79.8 865.0,76.0 C866.5,72.2 868.5,69.1 871.0,67.0 C873.5,64.9 877.0,64.2 880.0,63.5 C883.0,62.8 887.0,62.2 889.0,63.0Z" stroke="none"/>
<path d="M866.0,75.0 C865.2,72.8 859.8,73.7 857.0,73.0 C854.2,72.3 851.7,70.2 849.4,71.0 C847.1,71.8 844.4,76.0 843.0,78.0 C841.6,80.0 839.5,81.8 841.0,82.8 C842.5,83.8 848.5,83.5 852.0,84.0 C855.5,84.5 859.7,87.5 862.0,86.0 C864.3,84.5 866.8,77.2 866.0,75.0Z" stroke="none"/>
<path d="M894.0,92.0 C898.8,95.3 894.0,104.5 894.0,110.0 C894.0,115.5 894.0,120.8 894.0,125.0 C894.0,129.2 893.4,128.4 894.0,135.0 C894.6,141.6 896.8,156.3 897.6,164.5 C898.4,172.7 898.9,179.4 898.6,184.0 C898.3,188.6 897.4,189.7 895.6,192.0 C893.8,194.3 891.9,196.7 888.0,198.0 C884.1,199.3 877.2,200.0 872.0,200.0 C866.8,200.0 860.8,199.3 857.0,198.0 C853.2,196.7 851.4,194.3 849.5,192.0 C847.6,189.7 846.2,188.6 845.5,184.0 C844.8,179.4 844.9,171.0 845.5,164.5 C846.1,158.0 848.0,149.9 849.0,145.0 C850.0,140.1 851.0,139.2 851.4,135.0 C851.8,130.8 851.1,125.8 851.1,120.0 C851.1,114.2 850.5,105.0 851.1,100.5 C851.8,96.0 852.7,94.8 855.0,93.0 C857.3,91.2 858.5,90.2 865.0,90.0 C871.5,89.8 889.2,88.7 894.0,92.0Z" stroke="none"/>
<path d="M851.0,192.0 C850.3,193.8 848.8,199.7 847.0,203.0 C845.2,206.3 841.8,209.3 840.0,212.0 C838.2,214.7 836.7,217.8 836.0,219.0" fill="none" stroke-width="7.5"/>
<path d="M892.0,193.0 C892.8,195.0 895.3,201.5 897.0,205.0 C898.7,208.5 900.7,211.2 902.0,214.0 C903.3,216.8 904.5,220.7 905.0,222.0" fill="none" stroke-width="7.5"/>
<path d="M872.0,208.0 C871.6,210.7 870.3,218.7 869.5,224.0 C868.7,229.3 867.4,237.3 867.0,240.0" fill="none" stroke-width="5"/>
<ellipse cx="872.5" cy="203" rx="10.5" ry="8" stroke="none"/>
</g>
<g filter="url(#inner)" fill="#d1c0b2" stroke="#d1c0b2" stroke-linecap="round" stroke-linejoin="round">
<path d="M889.0,63.0 C891.0,63.8 891.5,65.2 892.3,68.0 C893.0,70.8 893.2,76.0 893.5,80.0 C893.8,84.0 895.4,89.2 894.0,92.0 C892.6,94.8 889.0,96.2 885.0,97.0 C881.0,97.8 873.8,98.2 870.0,97.0 C866.2,95.8 862.8,93.5 862.0,90.0 C861.2,86.5 863.5,79.8 865.0,76.0 C866.5,72.2 868.5,69.1 871.0,67.0 C873.5,64.9 877.0,64.2 880.0,63.5 C883.0,62.8 887.0,62.2 889.0,63.0Z" stroke="none"/>
<path d="M866.0,75.0 C865.2,72.8 859.8,73.7 857.0,73.0 C854.2,72.3 851.7,70.2 849.4,71.0 C847.1,71.8 844.4,76.0 843.0,78.0 C841.6,80.0 839.5,81.8 841.0,82.8 C842.5,83.8 848.5,83.5 852.0,84.0 C855.5,84.5 859.7,87.5 862.0,86.0 C864.3,84.5 866.8,77.2 866.0,75.0Z" stroke="none"/>
<path d="M894.0,92.0 C898.8,95.3 894.0,104.5 894.0,110.0 C894.0,115.5 894.0,120.8 894.0,125.0 C894.0,129.2 893.4,128.4 894.0,135.0 C894.6,141.6 896.8,156.3 897.6,164.5 C898.4,172.7 898.9,179.4 898.6,184.0 C898.3,188.6 897.4,189.7 895.6,192.0 C893.8,194.3 891.9,196.7 888.0,198.0 C884.1,199.3 877.2,200.0 872.0,200.0 C866.8,200.0 860.8,199.3 857.0,198.0 C853.2,196.7 851.4,194.3 849.5,192.0 C847.6,189.7 846.2,188.6 845.5,184.0 C844.8,179.4 844.9,171.0 845.5,164.5 C846.1,158.0 848.0,149.9 849.0,145.0 C850.0,140.1 851.0,139.2 851.4,135.0 C851.8,130.8 851.1,125.8 851.1,120.0 C851.1,114.2 850.5,105.0 851.1,100.5 C851.8,96.0 852.7,94.8 855.0,93.0 C857.3,91.2 858.5,90.2 865.0,90.0 C871.5,89.8 889.2,88.7 894.0,92.0Z" stroke="none"/>
<path d="M851.0,192.0 C850.3,193.8 848.8,199.7 847.0,203.0 C845.2,206.3 841.8,209.3 840.0,212.0 C838.2,214.7 836.7,217.8 836.0,219.0" fill="none" stroke-width="7.5"/>
<path d="M892.0,193.0 C892.8,195.0 895.3,201.5 897.0,205.0 C898.7,208.5 900.7,211.2 902.0,214.0 C903.3,216.8 904.5,220.7 905.0,222.0" fill="none" stroke-width="7.5"/>
<path d="M872.0,208.0 C871.6,210.7 870.3,218.7 869.5,224.0 C868.7,229.3 867.4,237.3 867.0,240.0" fill="none" stroke-width="5"/>
<ellipse cx="872.5" cy="203" rx="10.5" ry="8" stroke="none"/>
</g>
<ellipse cx="872" cy="140" rx="7" ry="45" fill="#c4a89c" opacity="0.28" filter="url(#b3)"/>
<path d="M854,97.0 Q869.0,94.4 890,96.6" fill="none" stroke="#a8968c" stroke-width="1" opacity="0.22" filter="url(#b07)"/>
<path d="M859,102.0 Q873.0,99.4 887,101.6" fill="none" stroke="#a8968c" stroke-width="1" opacity="0.22" filter="url(#b07)"/>
<path d="M858,108.0 Q876.0,105.4 888,107.6" fill="none" stroke="#a8968c" stroke-width="1" opacity="0.22" filter="url(#b07)"/>
<path d="M857,114.0 Q869.5,111.4 888,113.6" fill="none" stroke="#a8968c" stroke-width="1" opacity="0.22" filter="url(#b07)"/>
<path d="M856,120.0 Q872.5,117.4 889,119.6" fill="none" stroke="#a8968c" stroke-width="1" opacity="0.22" filter="url(#b07)"/>
<path d="M861,126.0 Q876.5,123.4 886,125.6" fill="none" stroke="#a8968c" stroke-width="1" opacity="0.22" filter="url(#b07)"/>
<path d="M866.0,75.0 C865.2,72.8 859.8,73.7 857.0,73.0 C854.2,72.3 851.7,70.2 849.4,71.0 C847.1,71.8 844.4,76.0 843.0,78.0 C841.6,80.0 839.5,81.8 841.0,82.8 C842.5,83.8 848.5,83.5 852.0,84.0 C855.5,84.5 859.7,87.5 862.0,86.0 C864.3,84.5 866.8,77.2 866.0,75.0Z" fill="#e2dacb" opacity="0.75" filter="url(#b1)"/>
<path d="M851.0,192.0 C850.3,193.8 848.8,199.7 847.0,203.0 C845.2,206.3 841.8,209.3 840.0,212.0 C838.2,214.7 836.7,217.8 836.0,219.0" fill="none" stroke="#c4a898" stroke-width="4.1" stroke-linecap="round" opacity="0.6" filter="url(#b1)"/>
<path d="M892.0,193.0 C892.8,195.0 895.3,201.5 897.0,205.0 C898.7,208.5 900.7,211.2 902.0,214.0 C903.3,216.8 904.5,220.7 905.0,222.0" fill="none" stroke="#c4a898" stroke-width="4.1" stroke-linecap="round" opacity="0.6" filter="url(#b1)"/>
<path d="M872.0,208.0 C871.6,210.7 870.3,218.7 869.5,224.0 C868.7,229.3 867.4,237.3 867.0,240.0" fill="none" stroke="#c4a898" stroke-width="2.8" stroke-linecap="round" opacity="0.6" filter="url(#b1)"/>
<ellipse cx="887" cy="178" rx="3.5" ry="3.5" fill="#bf9990" opacity="0.8" filter="url(#b1)"/>
<ellipse cx="879" cy="76" rx="4.5" ry="3" fill="#bf9990" opacity="0.8" filter="url(#b1)"/>
<ellipse cx="661.5" cy="72" rx="1.4" ry="1.9" fill="#6b5a55" filter="url(#b06)"/>
</g>
<text x="539.6" y="261.6" font-family="Carlito, 'Liberation Sans', sans-serif" font-size="21" fill="#1a1a1a" text-anchor="middle" font-weight="normal" stroke="#1a1a1a" stroke-width="0.45"  textLength="61.33" lengthAdjust="spacingAndGlyphs">Vehicle</text>
<text x="648.6" y="261.6" font-family="Carlito, 'Liberation Sans', sans-serif" font-size="21" fill="#1a1a1a" text-anchor="middle" font-weight="normal" stroke="#1a1a1a" stroke-width="0.45"  textLength="29.86" lengthAdjust="spacingAndGlyphs">Exo</text>
<text x="765.9" y="261.6" font-family="Carlito, 'Liberation Sans', sans-serif" font-size="21" fill="#1a1a1a" text-anchor="middle" font-weight="normal" stroke="#1a1a1a" stroke-width="0.45"  textLength="57.58" lengthAdjust="spacingAndGlyphs">67-Exo</text>
<text x="873.4" y="261.6" font-family="Carlito, 'Liberation Sans', sans-serif" font-size="21" fill="#1a1a1a" text-anchor="middle" font-weight="normal" stroke="#1a1a1a" stroke-width="0.45"  textLength="68.23" lengthAdjust="spacingAndGlyphs">122-Exo</text>
<text x="4.8" y="317" font-family="'Liberation Sans', Arial, sans-serif" font-size="30" fill="#000" text-anchor="start" font-weight="bold"  textLength="21.67" lengthAdjust="spacingAndGlyphs">D</text>
<text x="36.3" y="314.5" font-family="Carlito, 'Liberation Sans', sans-serif" font-size="21" fill="#1a1a1a" text-anchor="start" font-weight="normal" textLength="278" lengthAdjust="spacingAndGlyphs" stroke="#1a1a1a" stroke-width="0.3" >Relative mRNA expression levels</text>
<line x1="52.5" y1="337.3" x2="58.3" y2="337.3" stroke="#8c8c8c" stroke-width="1" />
<text x="39.3" y="343.1" font-family="Carlito, 'Liberation Sans', sans-serif" font-size="18" fill="#333" text-anchor="end" font-weight="normal" stroke="#333" stroke-width="0.2"  textLength="22.80" lengthAdjust="spacingAndGlyphs">1.2</text>
<line x1="52.5" y1="361.48333333333335" x2="58.3" y2="361.48333333333335" stroke="#8c8c8c" stroke-width="1" />
<text x="39.3" y="367.28333333333336" font-family="Carlito, 'Liberation Sans', sans-serif" font-size="18" fill="#333" text-anchor="end" font-weight="normal" stroke="#333" stroke-width="0.2"  textLength="9.12" lengthAdjust="spacingAndGlyphs">1</text>
<line x1="52.5" y1="385.6666666666667" x2="58.3" y2="385.6666666666667" stroke="#8c8c8c" stroke-width="1" />
<text x="39.3" y="391.4666666666667" font-family="Carlito, 'Liberation Sans', sans-serif" font-size="18" fill="#333" text-anchor="end" font-weight="normal" stroke="#333" stroke-width="0.2"  textLength="22.80" lengthAdjust="spacingAndGlyphs">0.8</text>
<line x1="52.5" y1="409.85" x2="58.3" y2="409.85" stroke="#8c8c8c" stroke-width="1" />
<text x="39.3" y="415.65000000000003" font-family="Carlito, 'Liberation Sans', sans-serif" font-size="18" fill="#333" text-anchor="end" font-weight="normal" stroke="#333" stroke-width="0.2"  textLength="22.80" lengthAdjust="spacingAndGlyphs">0.6</text>
<line x1="52.5" y1="434.0333333333333" x2="58.3" y2="434.0333333333333" stroke="#8c8c8c" stroke-width="1" />
<text x="39.3" y="439.8333333333333" font-family="Carlito, 'Liberation Sans', sans-serif" font-size="18" fill="#333" text-anchor="end" font-weight="normal" stroke="#333" stroke-width="0.2"  textLength="22.80" lengthAdjust="spacingAndGlyphs">0.4</text>
<line x1="52.5" y1="458.21666666666664" x2="58.3" y2="458.21666666666664" stroke="#8c8c8c" stroke-width="1" />
<text x="39.3" y="464.01666666666665" font-family="Carlito, 'Liberation Sans', sans-serif" font-size="18" fill="#333" text-anchor="end" font-weight="normal" stroke="#333" stroke-width="0.2"  textLength="22.80" lengthAdjust="spacingAndGlyphs">0.2</text>
<line x1="52.5" y1="482.4" x2="58.3" y2="482.4" stroke="#8c8c8c" stroke-width="1" />
<text x="39.3" y="488.2" font-family="Carlito, 'Liberation Sans', sans-serif" font-size="18" fill="#333" text-anchor="end" font-weight="normal" stroke="#333" stroke-width="0.2"  textLength="9.12" lengthAdjust="spacingAndGlyphs">0</text>
<line x1="58.3" y1="337.3" x2="58.3" y2="482.4" stroke="#8c8c8c" stroke-width="1" />
<line x1="52.5" y1="482.4" x2="266" y2="482.4" stroke="#8c8c8c" stroke-width="1" />
<line x1="58.3" y1="482.4" x2="58.3" y2="487.4" stroke="#8c8c8c" stroke-width="1" />
<line x1="127.53333333333333" y1="482.4" x2="127.53333333333333" y2="487.4" stroke="#8c8c8c" stroke-width="1" />
<line x1="196.76666666666665" y1="482.4" x2="196.76666666666665" y2="487.4" stroke="#8c8c8c" stroke-width="1" />
<line x1="266.0" y1="482.4" x2="266.0" y2="487.4" stroke="#8c8c8c" stroke-width="1" />
<rect x="64.00" y="361.00" width="14.10" height="121.40" fill="#7f7f7f" stroke="#333" stroke-width="1.2" />
<rect x="78.10" y="356.30" width="14.10" height="126.10" fill="#ffffff" stroke="#333" stroke-width="1.2" />
<rect x="92.20" y="363.40" width="14.10" height="119.00" fill="#bfbfbf" stroke="#333" stroke-width="1.2" />
<rect x="106.30" y="403.00" width="14.10" height="79.40" fill="#000000" stroke="#333" stroke-width="1.2" />
<line x1="85.14999999999999" y1="344" x2="85.14999999999999" y2="369" stroke="#444" stroke-width="1.2" />
<line x1="82.14999999999999" y1="344" x2="88.14999999999999" y2="344" stroke="#444" stroke-width="1.2" />
<line x1="82.14999999999999" y1="369" x2="88.14999999999999" y2="369" stroke="#444" stroke-width="1.2" />
<line x1="99.25" y1="356.3" x2="99.25" y2="370.8" stroke="#444" stroke-width="1.2" />
<line x1="96.25" y1="356.3" x2="102.25" y2="356.3" stroke="#444" stroke-width="1.2" />
<line x1="96.25" y1="370.8" x2="102.25" y2="370.8" stroke="#444" stroke-width="1.2" />
<line x1="113.35" y1="390.3" x2="113.35" y2="403" stroke="#555" stroke-width="1.2" />
<line x1="110.35" y1="390.3" x2="116.35" y2="390.3" stroke="#555" stroke-width="1.2" />
<rect x="133.10" y="361.00" width="14.10" height="121.40" fill="#7f7f7f" stroke="#333" stroke-width="1.2" />
<rect x="147.20" y="359.40" width="14.10" height="123.00" fill="#ffffff" stroke="#333" stroke-width="1.2" />
<rect x="161.30" y="365.40" width="14.10" height="117.00" fill="#bfbfbf" stroke="#333" stroke-width="1.2" />
<rect x="175.40" y="413.60" width="14.10" height="68.80" fill="#000000" stroke="#333" stroke-width="1.2" />
<line x1="154.25" y1="347.6" x2="154.25" y2="372" stroke="#444" stroke-width="1.2" />
<line x1="151.25" y1="347.6" x2="157.25" y2="347.6" stroke="#444" stroke-width="1.2" />
<line x1="151.25" y1="372" x2="157.25" y2="372" stroke="#444" stroke-width="1.2" />
<line x1="168.35" y1="353" x2="168.35" y2="379" stroke="#444" stroke-width="1.2" />
<line x1="165.35" y1="353" x2="171.35" y2="353" stroke="#444" stroke-width="1.2" />
<line x1="165.35" y1="379" x2="171.35" y2="379" stroke="#444" stroke-width="1.2" />
<line x1="182.45" y1="395" x2="182.45" y2="413.6" stroke="#555" stroke-width="1.2" />
<line x1="179.45" y1="395" x2="185.45" y2="395" stroke="#555" stroke-width="1.2" />
<rect x="202.30" y="361.00" width="14.10" height="121.40" fill="#7f7f7f" stroke="#333" stroke-width="1.2" />
<rect x="216.40" y="358.00" width="14.10" height="124.40" fill="#ffffff" stroke="#333" stroke-width="1.2" />
<rect x="230.50" y="357.40" width="14.10" height="125.00" fill="#bfbfbf" stroke="#333" stroke-width="1.2" />
<rect x="244.60" y="400.00" width="14.10" height="82.40" fill="#000000" stroke="#333" stroke-width="1.2" />
<line x1="223.45000000000002" y1="347.4" x2="223.45000000000002" y2="370.6" stroke="#444" stroke-width="1.2" />
<line x1="220.45000000000002" y1="347.4" x2="226.45000000000002" y2="347.4" stroke="#444" stroke-width="1.2" />
<line x1="220.45000000000002" y1="370.6" x2="226.45000000000002" y2="370.6" stroke="#444" stroke-width="1.2" />
<line x1="237.55" y1="344.6" x2="237.55" y2="370" stroke="#444" stroke-width="1.2" />
<line x1="234.55" y1="344.6" x2="240.55" y2="344.6" stroke="#444" stroke-width="1.2" />
<line x1="234.55" y1="370" x2="240.55" y2="370" stroke="#444" stroke-width="1.2" />
<line x1="251.65000000000003" y1="389.6" x2="251.65000000000003" y2="400" stroke="#555" stroke-width="1.2" />
<line x1="248.65000000000003" y1="389.6" x2="254.65000000000003" y2="389.6" stroke="#555" stroke-width="1.2" />
<polyline points="99.6,350 99.6,347 114.5,347 114.5,385.8" fill="none" stroke="#7a7a7a" stroke-width="1.2"/>
<polyline points="169,348 169,344 183.6,344 183.6,393" fill="none" stroke="#7a7a7a" stroke-width="1.2"/>
<polyline points="238,340 238,336 252.6,336 252.6,384" fill="none" stroke="#7a7a7a" stroke-width="1.2"/>
<text x="107.2" y="352.3" font-family="'Liberation Sans', Arial, sans-serif" font-size="26.7" font-weight="bold" fill="#111" text-anchor="middle" textLength="10.39" lengthAdjust="spacingAndGlyphs">*</text>
<text x="175.4" y="349.7" font-family="'Liberation Sans', Arial, sans-serif" font-size="26.7" font-weight="bold" fill="#111" text-anchor="middle" textLength="10.39" lengthAdjust="spacingAndGlyphs">*</text>
<text x="245.0" y="344.0" font-family="'Liberation Sans', Arial, sans-serif" font-size="26.7" font-weight="bold" fill="#111" text-anchor="middle" textLength="10.39" lengthAdjust="spacingAndGlyphs">*</text>
<text x="92.3" y="510.8" font-family="'Liberation Sans', Arial, sans-serif" font-size="16" fill="#1a1a1a" text-anchor="middle" font-weight="normal" textLength="45.5" lengthAdjust="spacingAndGlyphs" stroke="#1a1a1a" stroke-width="0.35" >IGF1R</text>
<text x="161" y="510.8" font-family="'Liberation Sans', Arial, sans-serif" font-size="16" fill="#1a1a1a" text-anchor="middle" font-weight="normal" textLength="62" lengthAdjust="spacingAndGlyphs" stroke="#1a1a1a" stroke-width="0.35" >ADAM10</text>
<text x="229.6" y="510.8" font-family="'Liberation Sans', Arial, sans-serif" font-size="16" fill="#1a1a1a" text-anchor="middle" font-weight="normal" textLength="52.5" lengthAdjust="spacingAndGlyphs" stroke="#1a1a1a" stroke-width="0.35" >CCNG1</text>
<rect x="271.60" y="354.40" width="11.20" height="11.00" fill="#7f7f7f" stroke="#333" stroke-width="1.2" />
<text x="288.6" y="364.59999999999997" font-family="Carlito, 'Liberation Sans', sans-serif" font-size="18" fill="#1a1a1a" text-anchor="start" font-weight="normal" stroke="#1a1a1a" stroke-width="0.3"  textLength="52.56" lengthAdjust="spacingAndGlyphs">Vehicle</text>
<rect x="271.60" y="384.40" width="11.20" height="11.00" fill="#ffffff" stroke="#333" stroke-width="1.2" />
<text x="288.6" y="394.59999999999997" font-family="Carlito, 'Liberation Sans', sans-serif" font-size="18" fill="#1a1a1a" text-anchor="start" font-weight="normal" stroke="#1a1a1a" stroke-width="0.3"  textLength="25.59" lengthAdjust="spacingAndGlyphs">Exo</text>
<rect x="271.60" y="414.40" width="11.20" height="11.00" fill="#bfbfbf" stroke="#333" stroke-width="1.2" />
<text x="288.6" y="424.59999999999997" font-family="Carlito, 'Liberation Sans', sans-serif" font-size="18" fill="#1a1a1a" text-anchor="start" font-weight="normal" stroke="#1a1a1a" stroke-width="0.3"  textLength="49.36" lengthAdjust="spacingAndGlyphs">67-Exo</text>
<rect x="271.60" y="444.40" width="11.20" height="11.00" fill="#000000" stroke="#333" stroke-width="1.2" />
<text x="288.6" y="454.59999999999997" font-family="Carlito, 'Liberation Sans', sans-serif" font-size="18" fill="#1a1a1a" text-anchor="start" font-weight="normal" stroke="#1a1a1a" stroke-width="0.3"  textLength="58.48" lengthAdjust="spacingAndGlyphs">122-Exo</text>
<text x="374.6" y="318" font-family="'Liberation Sans', Arial, sans-serif" font-size="30" fill="#000" text-anchor="start" font-weight="bold"  textLength="20.02" lengthAdjust="spacingAndGlyphs">E</text>
<rect x="404.20" y="295.00" width="171.00" height="40.00" fill="#a9a9a9" />
<rect x="404.20" y="342.50" width="171.00" height="38.50" fill="#a9a9a9" />
<rect x="404.20" y="389.50" width="171.00" height="38.00" fill="#a9a9a9" />
<rect x="404.20" y="436.00" width="171.00" height="38.50" fill="#a9a9a9" />
<g fill="#1a1a1a" filter="url(#b08)">
<path d="M412.5,314.0 L413.6,312.0 L414.6,312.0 L415.7,312.0 L416.7,312.1 L417.8,312.3 L418.8,312.4 L419.9,312.6 L420.9,312.7 L422.0,312.9 L423.0,313.0 L424.1,313.1 L425.1,313.1 L426.2,313.1 L427.2,313.1 L428.3,313.0 L429.4,312.9 L430.4,312.8 L431.5,312.6 L432.5,312.5 L433.6,312.3 L434.6,312.1 L435.7,311.8 L436.7,311.6 L437.8,311.5 L438.8,311.3 L439.9,311.3 L440.9,311.3 L442.0,313.2 L442.0,313.2 L440.9,315.4 L439.9,315.9 L438.8,316.4 L437.8,316.9 L436.7,317.4 L435.7,317.9 L434.6,318.4 L433.6,318.9 L432.5,319.3 L431.5,319.7 L430.4,320.0 L429.4,320.3 L428.3,320.5 L427.2,320.6 L426.2,320.6 L425.1,320.6 L424.1,320.4 L423.0,320.2 L422.0,319.9 L420.9,319.5 L419.9,319.1 L418.8,318.6 L417.8,318.1 L416.7,317.6 L415.7,317.1 L414.6,316.6 L413.6,316.2 L412.5,314.0Z"/>
<path d="M453.5,314.0 L454.6,312.0 L455.7,311.9 L456.8,312.0 L457.9,312.0 L458.9,312.2 L460.0,312.3 L461.1,312.4 L462.2,312.5 L463.3,312.6 L464.4,312.7 L465.5,312.8 L466.6,312.8 L467.7,312.7 L468.8,312.6 L469.8,312.6 L470.9,312.4 L472.0,312.3 L473.1,312.2 L474.2,312.0 L475.3,311.8 L476.4,311.6 L477.5,311.5 L478.6,311.3 L479.6,311.2 L480.7,311.1 L481.8,311.0 L482.9,311.1 L484.0,313.0 L484.0,313.0 L482.9,315.2 L481.8,315.6 L480.7,316.1 L479.6,316.5 L478.6,317.0 L477.5,317.4 L476.4,317.8 L475.3,318.2 L474.2,318.6 L473.1,318.9 L472.0,319.2 L470.9,319.5 L469.8,319.7 L468.8,319.8 L467.7,319.9 L466.6,319.9 L465.5,319.9 L464.4,319.7 L463.3,319.5 L462.2,319.2 L461.1,318.8 L460.0,318.4 L458.9,318.0 L457.9,317.5 L456.8,317.1 L455.7,316.6 L454.6,316.1 L453.5,314.0Z"/>
<path d="M495.5,313.2 L496.6,311.2 L497.6,311.0 L498.7,311.0 L499.8,311.0 L500.9,311.0 L501.9,311.1 L503.0,311.2 L504.1,311.2 L505.1,311.3 L506.2,311.4 L507.3,311.4 L508.4,311.4 L509.4,311.4 L510.5,311.3 L511.6,311.2 L512.6,311.1 L513.7,311.0 L514.8,310.8 L515.9,310.6 L516.9,310.4 L518.0,310.2 L519.1,310.0 L520.1,309.8 L521.2,309.6 L522.3,309.4 L523.4,309.3 L524.4,309.3 L525.5,311.0 L525.5,311.0 L524.4,313.0 L523.4,313.5 L522.3,314.0 L521.2,314.5 L520.1,315.1 L519.1,315.5 L518.0,316.0 L516.9,316.5 L515.9,316.9 L514.8,317.3 L513.7,317.6 L512.6,317.8 L511.6,318.0 L510.5,318.2 L509.4,318.2 L508.4,318.2 L507.3,318.1 L506.2,318.0 L505.1,317.8 L504.1,317.5 L503.0,317.3 L501.9,317.0 L500.9,316.6 L499.8,316.3 L498.7,316.0 L497.6,315.6 L496.6,315.3 L495.5,313.2Z"/>
<path d="M540.0,313.8 L540.8,312.5 L541.6,312.4 L542.4,312.4 L543.2,312.4 L544.0,312.5 L544.8,312.6 L545.6,312.7 L546.4,312.8 L547.2,312.8 L548.0,312.9 L548.8,312.9 L549.6,312.9 L550.4,312.9 L551.2,312.8 L552.1,312.8 L552.9,312.7 L553.7,312.6 L554.5,312.5 L555.3,312.4 L556.1,312.2 L556.9,312.1 L557.7,312.0 L558.5,311.8 L559.3,311.7 L560.1,311.6 L560.9,311.6 L561.7,311.6 L562.5,312.4 L562.5,312.4 L561.7,313.4 L560.9,313.8 L560.1,314.2 L559.3,314.6 L558.5,315.0 L557.7,315.4 L556.9,315.8 L556.1,316.2 L555.3,316.5 L554.5,316.9 L553.7,317.2 L552.9,317.4 L552.1,317.6 L551.2,317.8 L550.4,317.9 L549.6,318.0 L548.8,318.0 L548.0,317.9 L547.2,317.7 L546.4,317.5 L545.6,317.2 L544.8,317.0 L544.0,316.6 L543.2,316.3 L542.4,315.9 L541.6,315.6 L540.8,315.2 L540.0,313.8Z"/>
<path d="M410.5,363.0 L411.8,360.1 L413.2,359.8 L414.5,359.6 L415.8,359.5 L417.1,359.4 L418.5,359.3 L419.8,359.2 L421.1,359.2 L422.5,359.2 L423.8,359.1 L425.1,359.1 L426.4,359.1 L427.8,359.1 L429.1,359.1 L430.4,359.1 L431.8,359.1 L433.1,359.1 L434.4,359.1 L435.7,359.2 L437.1,359.2 L438.4,359.2 L439.7,359.3 L441.1,359.4 L442.4,359.5 L443.7,359.6 L445.0,359.8 L446.4,360.1 L447.7,363.0 L447.7,363.0 L446.4,366.1 L445.0,366.7 L443.7,367.2 L442.4,367.6 L441.1,367.9 L439.7,368.2 L438.4,368.5 L437.1,368.7 L435.7,368.9 L434.4,369.0 L433.1,369.1 L431.8,369.2 L430.4,369.3 L429.1,369.3 L427.8,369.3 L426.4,369.2 L425.1,369.1 L423.8,369.0 L422.5,368.9 L421.1,368.7 L419.8,368.5 L418.5,368.2 L417.1,367.9 L415.8,367.6 L414.5,367.2 L413.2,366.7 L411.8,366.1 L410.5,363.0Z"/>
<path d="M453.4,362.6 L454.6,359.7 L455.9,359.3 L457.1,359.1 L458.4,358.9 L459.6,358.8 L460.9,358.7 L462.1,358.6 L463.3,358.5 L464.6,358.4 L465.8,358.4 L467.1,358.3 L468.3,358.3 L469.6,358.3 L470.8,358.2 L472.0,358.2 L473.3,358.2 L474.5,358.2 L475.8,358.2 L477.0,358.2 L478.3,358.2 L479.5,358.2 L480.7,358.2 L482.0,358.3 L483.2,358.4 L484.5,358.5 L485.7,358.6 L487.0,359.0 L488.2,361.8 L488.2,361.8 L487.0,364.9 L485.7,365.5 L484.5,365.9 L483.2,366.3 L482.0,366.6 L480.7,366.9 L479.5,367.2 L478.3,367.4 L477.0,367.6 L475.8,367.7 L474.5,367.9 L473.3,368.0 L472.0,368.1 L470.8,368.1 L469.6,368.1 L468.3,368.1 L467.1,368.1 L465.8,368.0 L464.6,367.9 L463.3,367.7 L462.1,367.6 L460.9,367.4 L459.6,367.1 L458.4,366.9 L457.1,366.6 L455.9,366.2 L454.6,365.6 L453.4,362.6Z"/>
<path d="M495.7,363.3 L496.8,360.8 L497.9,360.4 L499.1,360.2 L500.2,360.1 L501.3,359.9 L502.4,359.8 L503.5,359.7 L504.6,359.7 L505.8,359.6 L506.9,359.6 L508.0,359.5 L509.1,359.5 L510.2,359.4 L511.4,359.4 L512.5,359.4 L513.6,359.4 L514.7,359.4 L515.8,359.4 L516.9,359.4 L518.1,359.4 L519.2,359.4 L520.3,359.5 L521.4,359.5 L522.5,359.6 L523.6,359.7 L524.8,359.9 L525.9,360.2 L527.0,362.7 L527.0,362.7 L525.9,365.4 L524.8,366.0 L523.6,366.4 L522.5,366.8 L521.4,367.1 L520.3,367.4 L519.2,367.6 L518.1,367.8 L516.9,368.0 L515.8,368.2 L514.7,368.3 L513.6,368.4 L512.5,368.5 L511.4,368.5 L510.2,368.5 L509.1,368.5 L508.0,368.4 L506.9,368.3 L505.8,368.2 L504.6,368.1 L503.5,367.9 L502.4,367.7 L501.3,367.5 L500.2,367.2 L499.1,366.9 L497.9,366.5 L496.8,366.0 L495.7,363.3Z"/>
<path d="M536.3,362.4 L537.4,360.4 L538.5,360.1 L539.6,359.9 L540.8,359.8 L541.9,359.7 L543.0,359.6 L544.1,359.6 L545.2,359.5 L546.3,359.5 L547.4,359.4 L548.6,359.4 L549.7,359.4 L550.8,359.4 L551.9,359.4 L553.0,359.4 L554.1,359.4 L555.2,359.4 L556.4,359.4 L557.5,359.4 L558.6,359.4 L559.7,359.4 L560.8,359.5 L561.9,359.5 L563.0,359.6 L564.2,359.6 L565.3,359.7 L566.4,359.9 L567.5,361.4 L567.5,361.4 L566.4,363.0 L565.3,363.4 L564.2,363.6 L563.0,363.9 L561.9,364.1 L560.8,364.3 L559.7,364.4 L558.6,364.6 L557.5,364.7 L556.4,364.8 L555.2,365.0 L554.1,365.1 L553.0,365.1 L551.9,365.2 L550.8,365.3 L549.7,365.3 L548.6,365.3 L547.4,365.3 L546.3,365.3 L545.2,365.3 L544.1,365.3 L543.0,365.2 L541.9,365.2 L540.8,365.0 L539.6,364.9 L538.5,364.7 L537.4,364.4 L536.3,362.4Z"/>
<path d="M413.0,406.4 L414.1,403.4 L415.2,403.0 L416.2,402.7 L417.3,402.5 L418.4,402.4 L419.5,402.3 L420.6,402.2 L421.7,402.1 L422.7,402.0 L423.8,402.0 L424.9,402.0 L426.0,401.9 L427.1,401.9 L428.1,401.9 L429.2,401.9 L430.3,402.0 L431.4,402.0 L432.5,402.0 L433.6,402.1 L434.6,402.1 L435.7,402.2 L436.8,402.3 L437.9,402.4 L439.0,402.5 L440.1,402.7 L441.1,402.9 L442.2,403.3 L443.3,406.0 L443.3,406.0 L442.2,408.9 L441.1,409.4 L440.1,409.8 L439.0,410.1 L437.9,410.4 L436.8,410.6 L435.7,410.9 L434.6,411.1 L433.6,411.2 L432.5,411.4 L431.4,411.5 L430.3,411.6 L429.2,411.6 L428.1,411.7 L427.1,411.7 L426.0,411.7 L424.9,411.7 L423.8,411.6 L422.7,411.5 L421.7,411.4 L420.6,411.3 L419.5,411.1 L418.4,410.9 L417.3,410.7 L416.2,410.4 L415.2,410.0 L414.1,409.5 L413.0,406.4Z"/>
<path d="M455.6,405.5 L456.6,402.7 L457.6,402.3 L458.6,402.0 L459.7,401.8 L460.7,401.7 L461.7,401.6 L462.7,401.5 L463.7,401.4 L464.7,401.4 L465.7,401.3 L466.8,401.3 L467.8,401.2 L468.8,401.2 L469.8,401.2 L470.8,401.2 L471.8,401.2 L472.8,401.3 L473.9,401.3 L474.9,401.3 L475.9,401.4 L476.9,401.4 L477.9,401.5 L478.9,401.6 L479.9,401.7 L481.0,401.9 L482.0,402.2 L483.0,402.5 L484.0,405.2 L484.0,405.2 L483.0,408.0 L482.0,408.5 L481.0,408.9 L479.9,409.2 L478.9,409.4 L477.9,409.6 L476.9,409.8 L475.9,410.0 L474.9,410.1 L473.9,410.2 L472.8,410.3 L471.8,410.4 L470.8,410.4 L469.8,410.4 L468.8,410.4 L467.8,410.4 L466.8,410.4 L465.7,410.3 L464.7,410.3 L463.7,410.2 L462.7,410.0 L461.7,409.9 L460.7,409.7 L459.7,409.5 L458.6,409.2 L457.6,408.9 L456.6,408.4 L455.6,405.5Z"/>
<path d="M495.3,404.6 L496.4,401.6 L497.4,401.2 L498.5,400.9 L499.6,400.7 L500.7,400.5 L501.8,400.4 L502.8,400.3 L503.9,400.2 L505.0,400.1 L506.1,400.0 L507.1,400.0 L508.2,399.9 L509.3,399.9 L510.4,399.9 L511.4,399.9 L512.5,399.9 L513.6,399.9 L514.6,399.9 L515.7,399.9 L516.8,399.9 L517.9,400.0 L518.9,400.1 L520.0,400.1 L521.1,400.3 L522.2,400.4 L523.2,400.6 L524.3,401.0 L525.4,403.8 L525.4,403.8 L524.3,406.7 L523.2,407.3 L522.2,407.7 L521.1,408.0 L520.0,408.3 L518.9,408.5 L517.9,408.7 L516.8,408.9 L515.7,409.0 L514.6,409.2 L513.6,409.3 L512.5,409.4 L511.4,409.4 L510.4,409.5 L509.3,409.5 L508.2,409.5 L507.1,409.5 L506.1,409.5 L505.0,409.4 L503.9,409.3 L502.8,409.2 L501.8,409.1 L500.7,408.9 L499.6,408.7 L498.5,408.4 L497.4,408.1 L496.4,407.6 L495.3,404.6Z"/>
<path d="M537.7,404.0 L538.6,401.5 L539.6,401.1 L540.5,400.9 L541.4,400.7 L542.3,400.5 L543.2,400.4 L544.2,400.3 L545.1,400.3 L546.0,400.2 L547.0,400.2 L547.9,400.1 L548.8,400.1 L549.7,400.1 L550.7,400.1 L551.6,400.1 L552.5,400.1 L553.4,400.1 L554.4,400.2 L555.3,400.2 L556.2,400.2 L557.1,400.3 L558.1,400.3 L559.0,400.4 L559.9,400.5 L560.8,400.6 L561.8,400.7 L562.7,400.9 L563.6,402.2 L563.6,402.2 L562.7,403.7 L561.8,404.1 L560.8,404.4 L559.9,404.7 L559.0,405.0 L558.1,405.2 L557.1,405.5 L556.2,405.7 L555.3,405.9 L554.4,406.1 L553.4,406.2 L552.5,406.4 L551.6,406.6 L550.7,406.7 L549.7,406.8 L548.8,406.9 L547.9,407.0 L547.0,407.1 L546.0,407.1 L545.1,407.2 L544.2,407.2 L543.2,407.2 L542.3,407.1 L541.4,407.1 L540.5,407.0 L539.6,406.8 L538.6,406.4 L537.7,404.0Z"/>
<path d="M411.5,455.8 L412.9,451.3 L414.3,450.6 L415.7,450.1 L417.1,449.8 L418.6,449.6 L420.0,449.3 L421.4,449.2 L422.8,449.0 L424.2,448.9 L425.6,448.8 L427.0,448.8 L428.4,448.7 L429.8,448.7 L431.2,448.7 L432.7,448.7 L434.1,448.7 L435.5,448.8 L436.9,448.8 L438.3,448.9 L439.7,449.0 L441.1,449.2 L442.5,449.3 L443.9,449.6 L445.4,449.8 L446.8,450.1 L448.2,450.6 L449.6,451.3 L451.0,455.8 L451.0,455.8 L449.6,460.3 L448.2,461.1 L446.8,461.6 L445.4,462.0 L443.9,462.3 L442.5,462.5 L441.1,462.7 L439.7,462.9 L438.3,463.0 L436.9,463.1 L435.5,463.2 L434.1,463.3 L432.7,463.3 L431.2,463.3 L429.8,463.3 L428.4,463.3 L427.0,463.2 L425.6,463.1 L424.2,463.0 L422.8,462.9 L421.4,462.7 L420.0,462.5 L418.6,462.3 L417.1,462.0 L415.7,461.6 L414.3,461.1 L412.9,460.3 L411.5,455.8Z"/>
<path d="M452.0,456.2 L453.5,451.4 L455.0,450.6 L456.4,450.2 L457.9,449.8 L459.4,449.5 L460.9,449.3 L462.4,449.1 L463.9,449.0 L465.3,448.8 L466.8,448.8 L468.3,448.7 L469.8,448.6 L471.3,448.6 L472.8,448.6 L474.2,448.6 L475.7,448.6 L477.2,448.7 L478.7,448.8 L480.2,448.8 L481.6,449.0 L483.1,449.1 L484.6,449.3 L486.1,449.5 L487.6,449.8 L489.1,450.2 L490.5,450.6 L492.0,451.4 L493.5,456.2 L493.5,456.2 L492.0,461.0 L490.5,461.8 L489.1,462.4 L487.6,462.8 L486.1,463.1 L484.6,463.4 L483.1,463.6 L481.6,463.7 L480.2,463.9 L478.7,464.0 L477.2,464.1 L475.7,464.2 L474.2,464.2 L472.8,464.2 L471.3,464.2 L469.8,464.2 L468.3,464.1 L466.8,464.0 L465.3,463.9 L463.9,463.7 L462.4,463.6 L460.9,463.4 L459.4,463.1 L457.9,462.8 L456.4,462.4 L455.0,461.8 L453.5,461.0 L452.0,456.2Z"/>
<path d="M493.0,457.3 L494.2,452.6 L495.5,451.8 L496.8,451.3 L498.0,451.0 L499.2,450.7 L500.5,450.5 L501.8,450.3 L503.0,450.2 L504.2,450.0 L505.5,450.0 L506.8,449.9 L508.0,449.8 L509.2,449.8 L510.5,449.8 L511.8,449.8 L513.0,449.8 L514.2,449.9 L515.5,450.0 L516.8,450.0 L518.0,450.2 L519.2,450.3 L520.5,450.5 L521.8,450.7 L523.0,451.0 L524.2,451.3 L525.5,451.8 L526.8,452.6 L528.0,457.3 L528.0,457.3 L526.8,462.1 L525.5,462.9 L524.2,463.4 L523.0,463.8 L521.8,464.1 L520.5,464.4 L519.2,464.6 L518.0,464.8 L516.8,464.9 L515.5,465.0 L514.2,465.1 L513.0,465.2 L511.8,465.2 L510.5,465.2 L509.2,465.2 L508.0,465.2 L506.8,465.1 L505.5,465.0 L504.2,464.9 L503.0,464.8 L501.8,464.6 L500.5,464.4 L499.2,464.1 L498.0,463.8 L496.8,463.4 L495.5,462.9 L494.2,462.1 L493.0,457.3Z"/>
<path d="M531.0,455.6 L532.4,451.0 L533.8,450.2 L535.2,449.7 L536.6,449.4 L538.1,449.1 L539.5,448.8 L540.9,448.6 L542.3,448.5 L543.7,448.3 L545.1,448.2 L546.5,448.1 L547.9,448.1 L549.3,448.0 L550.8,448.0 L552.2,448.0 L553.6,448.0 L555.0,448.0 L556.4,448.1 L557.8,448.1 L559.2,448.2 L560.6,448.3 L562.0,448.5 L563.4,448.7 L564.9,448.9 L566.3,449.3 L567.7,449.7 L569.1,450.4 L570.5,455.0 L570.5,455.0 L569.1,459.7 L567.7,460.5 L566.3,461.0 L564.9,461.4 L563.4,461.7 L562.0,462.0 L560.6,462.2 L559.2,462.4 L557.8,462.6 L556.4,462.7 L555.0,462.8 L553.6,462.9 L552.2,463.0 L550.8,463.0 L549.3,463.0 L547.9,463.0 L546.5,463.0 L545.1,462.9 L543.7,462.8 L542.3,462.7 L540.9,462.5 L539.5,462.4 L538.1,462.1 L536.6,461.8 L535.2,461.5 L533.8,461.0 L532.4,460.2 L531.0,455.6Z"/>
<ellipse cx="428.6" cy="355.3" rx="2.5" ry="0.8"/><ellipse cx="405.5" cy="363" rx="1" ry="1.5"/>
</g>
<text x="610" y="325.6" font-family="Carlito, 'Liberation Sans', sans-serif" font-size="18" fill="#1a1a1a" text-anchor="middle" font-weight="normal" stroke="#1a1a1a" stroke-width="0.3"  textLength="51.30" lengthAdjust="spacingAndGlyphs">CCNG1</text>
<text x="614" y="370.4" font-family="Carlito, 'Liberation Sans', sans-serif" font-size="18" fill="#1a1a1a" text-anchor="middle" font-weight="normal" stroke="#1a1a1a" stroke-width="0.3"  textLength="65.28" lengthAdjust="spacingAndGlyphs">ADAM10</text>
<text x="612.7" y="417" font-family="Carlito, 'Liberation Sans', sans-serif" font-size="18" fill="#1a1a1a" text-anchor="middle" font-weight="normal" stroke="#1a1a1a" stroke-width="0.3"  textLength="43.06" lengthAdjust="spacingAndGlyphs">IGF1R</text>
<text x="611.2" y="463.4" font-family="Carlito, 'Liberation Sans', sans-serif" font-size="18" fill="#1a1a1a" text-anchor="middle" font-weight="normal" stroke="#1a1a1a" stroke-width="0.3"  textLength="53.36" lengthAdjust="spacingAndGlyphs">GAPDH</text>
<text transform="translate(434.5,483) rotate(-45) scale(1,1)" font-family="'Liberation Sans', Arial, sans-serif" font-size="18" fill="#1a1a1a" text-anchor="end" stroke="#1a1a1a" stroke-width="0.5" textLength="58.05" lengthAdjust="spacingAndGlyphs">Vehicle</text>
<text transform="translate(473.5,487) rotate(-45) scale(1,1)" font-family="'Liberation Sans', Arial, sans-serif" font-size="18" fill="#1a1a1a" text-anchor="end" stroke="#1a1a1a" stroke-width="0.5" textLength="31.03" lengthAdjust="spacingAndGlyphs">Exo</text>
<text transform="translate(518,484) rotate(-45) scale(1,1)" font-family="'Liberation Sans', Arial, sans-serif" font-size="18" fill="#1a1a1a" text-anchor="end" stroke="#1a1a1a" stroke-width="0.5" textLength="57.05" lengthAdjust="spacingAndGlyphs">67-Exo</text>
<text transform="translate(558,483) rotate(-45) scale(1,1)" font-family="'Liberation Sans', Arial, sans-serif" font-size="18" fill="#1a1a1a" text-anchor="end" stroke="#1a1a1a" stroke-width="0.5" textLength="67.05" lengthAdjust="spacingAndGlyphs">122-Exo</text>
<text x="676.8" y="319" font-family="'Liberation Sans', Arial, sans-serif" font-size="30" fill="#000" text-anchor="start" font-weight="bold"  textLength="18.33" lengthAdjust="spacingAndGlyphs">F</text>
<rect x="701.60" y="310.60" width="160.20" height="37.40" fill="#cdcdcd" />
<rect x="701.60" y="357.40" width="160.20" height="39.30" fill="#d3d3d3" />
<rect x="701.60" y="404.90" width="160.20" height="38.50" fill="#e2e2e2" />
<g clip-path="url(#fclip)"><g filter="url(#b3)">
<ellipse cx="721" cy="331" rx="13" ry="12" fill="#bcbcbc"/>
<ellipse cx="761" cy="331" rx="13" ry="12" fill="#bebebe"/>
<ellipse cx="799" cy="331" rx="13" ry="12" fill="#b8b8b8"/>
<ellipse cx="837" cy="331" rx="14" ry="12" fill="#b4b4b4"/>
<ellipse cx="721" cy="329" rx="11" ry="6" fill="#8a8a8a"/>
<ellipse cx="761" cy="329" rx="10" ry="6" fill="#8e8e8e"/>
<ellipse cx="799" cy="329" rx="11" ry="6" fill="#888888"/>
<ellipse cx="837" cy="329" rx="13" ry="7" fill="#707070"/>
<ellipse cx="721" cy="376" rx="13" ry="6" fill="#b0b0b0"/>
<ellipse cx="760" cy="376" rx="13" ry="6" fill="#a8a8a8"/>
<ellipse cx="799" cy="376" rx="13" ry="6" fill="#b0b0b0"/>
<ellipse cx="839" cy="376" rx="13" ry="6" fill="#909090"/>
</g><g filter="url(#b15)">
<ellipse cx="800" cy="313.5" rx="11" ry="4" fill="#a2a2a2"/>
<ellipse cx="838" cy="313.5" rx="12" ry="4" fill="#9c9c9c"/>
</g></g>
<path d="M711.0,331.8 L711.7,330.5 L712.5,330.0 L713.2,329.7 L713.9,329.4 L714.7,329.1 L715.4,329.0 L716.1,328.8 L716.9,328.7 L717.6,328.5 L718.3,328.5 L719.1,328.4 L719.8,328.3 L720.5,328.3 L721.2,328.3 L722.0,328.3 L722.7,328.3 L723.4,328.4 L724.2,328.5 L724.9,328.5 L725.6,328.7 L726.4,328.8 L727.1,329.0 L727.8,329.1 L728.6,329.4 L729.3,329.7 L730.0,330.0 L730.8,330.5 L731.5,331.8 L731.5,331.8 L730.8,333.2 L730.0,333.8 L729.3,334.3 L728.6,334.7 L727.8,335.0 L727.1,335.3 L726.4,335.5 L725.6,335.7 L724.9,335.9 L724.2,336.0 L723.4,336.2 L722.7,336.2 L722.0,336.3 L721.2,336.3 L720.5,336.3 L719.8,336.2 L719.1,336.2 L718.3,336.0 L717.6,335.9 L716.9,335.7 L716.1,335.5 L715.4,335.3 L714.7,335.0 L713.9,334.7 L713.2,334.3 L712.5,333.8 L711.7,333.2 L711.0,331.8Z" fill="#3c3c3c" filter="url(#b12)"/>
<path d="M752.0,331.5 L752.7,330.3 L753.4,329.8 L754.1,329.5 L754.8,329.2 L755.5,329.0 L756.2,328.9 L756.9,328.7 L757.6,328.6 L758.3,328.5 L759.0,328.4 L759.7,328.3 L760.4,328.3 L761.1,328.3 L761.8,328.2 L762.4,328.3 L763.1,328.3 L763.8,328.3 L764.5,328.4 L765.2,328.5 L765.9,328.6 L766.6,328.7 L767.3,328.9 L768.0,329.0 L768.7,329.2 L769.4,329.5 L770.1,329.8 L770.8,330.3 L771.5,331.5 L771.5,331.5 L770.8,332.8 L770.1,333.4 L769.4,333.8 L768.7,334.2 L768.0,334.5 L767.3,334.8 L766.6,335.0 L765.9,335.2 L765.2,335.4 L764.5,335.5 L763.8,335.6 L763.1,335.7 L762.4,335.7 L761.8,335.8 L761.1,335.7 L760.4,335.7 L759.7,335.6 L759.0,335.5 L758.3,335.4 L757.6,335.2 L756.9,335.0 L756.2,334.8 L755.5,334.5 L754.8,334.2 L754.1,333.8 L753.4,333.4 L752.7,332.8 L752.0,331.5Z" fill="#464646" filter="url(#b12)"/>
<path d="M788.0,331.5 L788.8,330.2 L789.6,329.7 L790.4,329.4 L791.2,329.1 L792.0,328.8 L792.8,328.7 L793.6,328.5 L794.4,328.4 L795.2,328.2 L796.0,328.2 L796.8,328.1 L797.6,328.0 L798.4,328.0 L799.2,328.0 L800.1,328.0 L800.9,328.0 L801.7,328.1 L802.5,328.2 L803.3,328.2 L804.1,328.4 L804.9,328.5 L805.7,328.7 L806.5,328.8 L807.3,329.1 L808.1,329.4 L808.9,329.7 L809.7,330.2 L810.5,331.5 L810.5,331.5 L809.7,332.9 L808.9,333.5 L808.1,334.0 L807.3,334.4 L806.5,334.7 L805.7,335.0 L804.9,335.2 L804.1,335.4 L803.3,335.6 L802.5,335.7 L801.7,335.9 L800.9,335.9 L800.1,336.0 L799.2,336.0 L798.4,336.0 L797.6,335.9 L796.8,335.9 L796.0,335.7 L795.2,335.6 L794.4,335.4 L793.6,335.2 L792.8,335.0 L792.0,334.7 L791.2,334.4 L790.4,334.0 L789.6,333.5 L788.8,332.9 L788.0,331.5Z" fill="#3a3a3a" filter="url(#b12)"/>
<path d="M824.0,331.7 L824.9,329.5 L825.8,328.8 L826.6,328.3 L827.5,328.0 L828.4,327.7 L829.2,327.5 L830.1,327.3 L831.0,327.1 L831.9,327.0 L832.8,326.9 L833.6,326.8 L834.5,326.7 L835.4,326.7 L836.2,326.7 L837.1,326.7 L838.0,326.7 L838.9,326.8 L839.8,326.9 L840.6,327.0 L841.5,327.1 L842.4,327.3 L843.2,327.5 L844.1,327.7 L845.0,328.0 L845.9,328.3 L846.8,328.8 L847.6,329.5 L848.5,331.7 L848.5,331.7 L847.6,334.0 L846.8,334.8 L845.9,335.4 L845.0,335.9 L844.1,336.2 L843.2,336.6 L842.4,336.8 L841.5,337.1 L840.6,337.3 L839.8,337.4 L838.9,337.5 L838.0,337.6 L837.1,337.7 L836.2,337.7 L835.4,337.7 L834.5,337.6 L833.6,337.5 L832.8,337.4 L831.9,337.3 L831.0,337.1 L830.1,336.8 L829.2,336.6 L828.4,336.2 L827.5,335.9 L826.6,335.4 L825.8,334.8 L824.9,334.0 L824.0,331.7Z" fill="#050505" filter="url(#b08)"/>
<path d="M710.0,376.5 L710.8,375.5 L711.7,375.1 L712.5,374.8 L713.4,374.6 L714.2,374.4 L715.0,374.2 L715.9,374.1 L716.7,374.0 L717.6,373.9 L718.4,373.9 L719.2,373.8 L720.1,373.8 L720.9,373.8 L721.8,373.8 L722.6,373.8 L723.4,373.8 L724.3,373.8 L725.1,373.9 L725.9,373.9 L726.8,374.0 L727.6,374.1 L728.5,374.2 L729.3,374.4 L730.1,374.6 L731.0,374.8 L731.8,375.1 L732.7,375.5 L733.5,376.5 L733.5,376.5 L732.7,377.6 L731.8,378.1 L731.0,378.5 L730.1,378.9 L729.3,379.1 L728.5,379.4 L727.6,379.6 L726.8,379.8 L725.9,379.9 L725.1,380.0 L724.3,380.1 L723.4,380.2 L722.6,380.2 L721.8,380.2 L720.9,380.2 L720.1,380.2 L719.2,380.1 L718.4,380.0 L717.6,379.9 L716.7,379.8 L715.9,379.6 L715.0,379.4 L714.2,379.1 L713.4,378.9 L712.5,378.5 L711.7,378.1 L710.8,377.6 L710.0,376.5Z" fill="#6e6e6e" filter="url(#b1)"/>
<path d="M748.0,376.7 L748.8,375.6 L749.7,375.2 L750.5,374.9 L751.4,374.6 L752.2,374.4 L753.0,374.2 L753.9,374.1 L754.7,374.0 L755.6,373.9 L756.4,373.8 L757.2,373.8 L758.1,373.7 L758.9,373.7 L759.8,373.7 L760.6,373.7 L761.4,373.7 L762.3,373.8 L763.1,373.8 L763.9,373.9 L764.8,374.0 L765.6,374.1 L766.5,374.2 L767.3,374.4 L768.1,374.6 L769.0,374.9 L769.8,375.2 L770.7,375.6 L771.5,376.7 L771.5,376.7 L770.7,377.9 L769.8,378.5 L769.0,378.9 L768.1,379.2 L767.3,379.5 L766.5,379.8 L765.6,380.0 L764.8,380.2 L763.9,380.3 L763.1,380.5 L762.3,380.6 L761.4,380.6 L760.6,380.7 L759.8,380.7 L758.9,380.7 L758.1,380.6 L757.2,380.6 L756.4,380.5 L755.6,380.3 L754.7,380.2 L753.9,380.0 L753.0,379.8 L752.2,379.5 L751.4,379.2 L750.5,378.9 L749.7,378.5 L748.8,377.9 L748.0,376.7Z" fill="#555555" filter="url(#b1)"/>
<path d="M787.0,376.5 L787.9,375.5 L788.8,375.1 L789.6,374.8 L790.5,374.6 L791.4,374.4 L792.2,374.2 L793.1,374.1 L794.0,374.0 L794.9,373.9 L795.8,373.9 L796.6,373.8 L797.5,373.8 L798.4,373.8 L799.2,373.8 L800.1,373.8 L801.0,373.8 L801.9,373.8 L802.8,373.9 L803.6,373.9 L804.5,374.0 L805.4,374.1 L806.2,374.2 L807.1,374.4 L808.0,374.6 L808.9,374.8 L809.8,375.1 L810.6,375.5 L811.5,376.5 L811.5,376.5 L810.6,377.6 L809.8,378.1 L808.9,378.5 L808.0,378.9 L807.1,379.1 L806.2,379.4 L805.4,379.6 L804.5,379.8 L803.6,379.9 L802.8,380.0 L801.9,380.1 L801.0,380.2 L800.1,380.2 L799.2,380.2 L798.4,380.2 L797.5,380.2 L796.6,380.1 L795.8,380.0 L794.9,379.9 L794.0,379.8 L793.1,379.6 L792.2,379.4 L791.4,379.1 L790.5,378.9 L789.6,378.5 L788.8,378.1 L787.9,377.6 L787.0,376.5Z" fill="#6c6c6c" filter="url(#b1)"/>
<path d="M827.0,377.0 L827.9,375.6 L828.8,375.1 L829.6,374.7 L830.5,374.5 L831.4,374.3 L832.2,374.1 L833.1,373.9 L834.0,373.8 L834.9,373.7 L835.8,373.6 L836.6,373.6 L837.5,373.5 L838.4,373.5 L839.2,373.5 L840.1,373.5 L841.0,373.5 L841.9,373.6 L842.8,373.6 L843.6,373.7 L844.5,373.8 L845.4,373.9 L846.2,374.1 L847.1,374.3 L848.0,374.5 L848.9,374.7 L849.8,375.1 L850.6,375.6 L851.5,377.0 L851.5,377.0 L850.6,378.5 L849.8,379.1 L848.9,379.6 L848.0,380.0 L847.1,380.3 L846.2,380.5 L845.4,380.8 L844.5,381.0 L843.6,381.1 L842.8,381.3 L841.9,381.4 L841.0,381.4 L840.1,381.5 L839.2,381.5 L838.4,381.5 L837.5,381.4 L836.6,381.4 L835.8,381.3 L834.9,381.1 L834.0,381.0 L833.1,380.8 L832.2,380.5 L831.4,380.3 L830.5,380.0 L829.6,379.6 L828.8,379.1 L827.9,378.5 L827.0,377.0Z" fill="#161616" filter="url(#b08)"/>
<g fill="#080808" filter="url(#b08)">
<path d="M706.2,425.4 C706.1,424.2 706.9,422.2 707.5,421.4 C708.1,420.6 707.8,420.8 709.6,420.6 C711.3,420.4 715.2,420.5 718.1,420.4 C721.0,420.3 724.7,420.3 727.2,420.2 C729.8,420.1 731.9,419.9 733.4,419.7 C734.8,419.5 735.5,418.6 736.0,419.0 C736.5,419.4 736.5,420.8 736.4,422.0 C736.3,423.2 736.2,425.1 735.2,426.2 C734.2,427.3 732.4,427.7 730.3,428.4 C728.2,429.1 725.0,429.9 722.7,430.2 C720.4,430.5 718.6,430.5 716.6,430.4 C714.5,430.3 711.9,430.1 710.5,429.8 C709.0,429.5 708.6,429.1 707.9,428.4 C707.2,427.7 706.3,426.6 706.2,425.4Z"/>
<path d="M746.1,425.6 C746.0,424.5 746.8,422.5 747.4,421.8 C748.0,421.0 747.7,421.2 749.6,421.0 C751.4,420.8 755.3,420.9 758.3,420.8 C761.3,420.7 765.1,420.7 767.7,420.5 C770.3,420.3 772.5,420.0 774.0,419.7 C775.5,419.4 776.2,418.3 776.7,418.6 C777.2,418.9 777.2,420.2 777.1,421.5 C777.0,422.8 776.9,425.2 775.9,426.4 C774.9,427.5 773.0,427.8 770.8,428.4 C768.7,429.0 765.4,429.9 763.0,430.2 C760.7,430.5 758.8,430.5 756.8,430.4 C754.7,430.3 752.0,430.1 750.5,429.8 C749.0,429.5 748.5,429.2 747.8,428.5 C747.1,427.8 746.2,426.7 746.1,425.6Z"/>
<path d="M785.3,424.9 C785.2,423.8 786.0,421.9 786.6,421.1 C787.2,420.4 787.0,420.5 788.8,420.4 C790.7,420.2 794.6,420.3 797.7,420.2 C800.8,420.1 804.6,420.0 807.3,419.8 C809.9,419.5 812.1,419.2 813.6,418.8 C815.1,418.4 815.9,417.2 816.4,417.4 C816.9,417.6 816.9,418.8 816.8,420.2 C816.7,421.6 816.7,424.4 815.6,425.6 C814.5,426.9 812.6,427.0 810.4,427.6 C808.3,428.2 804.9,429.1 802.5,429.4 C800.1,429.7 798.2,429.7 796.1,429.6 C794.0,429.5 791.3,429.3 789.8,429.0 C788.2,428.7 787.7,428.4 787.0,427.7 C786.3,427.0 785.4,426.0 785.3,424.9Z"/>
<path d="M824.8,424.2 C824.7,423.0 825.5,421.0 826.1,420.2 C826.7,419.4 826.4,419.6 828.2,419.4 C830.0,419.2 833.9,419.3 836.9,419.2 C839.9,419.1 843.7,419.0 846.3,418.7 C848.9,418.4 851.0,417.9 852.5,417.4 C854.0,416.9 854.7,415.4 855.2,415.6 C855.7,415.8 855.7,417.0 855.6,418.6 C855.5,420.2 855.4,423.6 854.4,425.0 C853.4,426.4 851.5,426.5 849.4,427.2 C847.2,427.9 843.9,428.7 841.6,429.0 C839.3,429.3 837.5,429.3 835.4,429.2 C833.3,429.1 830.6,428.9 829.2,428.6 C827.7,428.3 827.2,427.9 826.5,427.2 C825.8,426.5 824.9,425.4 824.8,424.2Z"/>
</g>
<text x="864.8" y="333.1" font-family="Carlito, 'Liberation Sans', sans-serif" font-size="18" fill="#1a1a1a" text-anchor="start" font-weight="normal" stroke="#1a1a1a" stroke-width="0.3"  textLength="72.53" lengthAdjust="spacingAndGlyphs">Caspase 3</text>
<text x="878" y="385.6" font-family="Carlito, 'Liberation Sans', sans-serif" font-size="18" fill="#1a1a1a" text-anchor="start" font-weight="normal" stroke="#1a1a1a" stroke-width="0.3"  textLength="26.05" lengthAdjust="spacingAndGlyphs">Bax</text>
<text x="864.8" y="432.5" font-family="Carlito, 'Liberation Sans', sans-serif" font-size="18" fill="#1a1a1a" text-anchor="start" font-weight="normal" stroke="#1a1a1a" stroke-width="0.3"  textLength="53.36" lengthAdjust="spacingAndGlyphs">GAPDH</text>
<text transform="translate(726.3,449.5) rotate(-90) scale(0.78,1)" font-family="'Liberation Sans', Arial, sans-serif" font-size="21.3" fill="#1a1a1a" text-anchor="end" stroke="#1a1a1a" stroke-width="0.6" textLength="68.67" lengthAdjust="spacingAndGlyphs">Vehicle</text>
<text transform="translate(766,456.8) rotate(-90) scale(0.78,1)" font-family="'Liberation Sans', Arial, sans-serif" font-size="21.3" fill="#1a1a1a" text-anchor="end" stroke="#1a1a1a" stroke-width="0.6" textLength="36.69" lengthAdjust="spacingAndGlyphs">Exo</text>
<text transform="translate(806.9,454) rotate(-90) scale(0.78,1)" font-family="'Liberation Sans', Arial, sans-serif" font-size="21.3" fill="#1a1a1a" text-anchor="end" stroke="#1a1a1a" stroke-width="0.6" textLength="67.46" lengthAdjust="spacingAndGlyphs">67-Exo</text>
<text transform="translate(845.8,452) rotate(-90) scale(0.78,1)" font-family="'Liberation Sans', Arial, sans-serif" font-size="21.3" fill="#1a1a1a" text-anchor="end" stroke="#1a1a1a" stroke-width="0.6" textLength="79.31" lengthAdjust="spacingAndGlyphs">122-Exo</text>
</svg>
</body></html>
